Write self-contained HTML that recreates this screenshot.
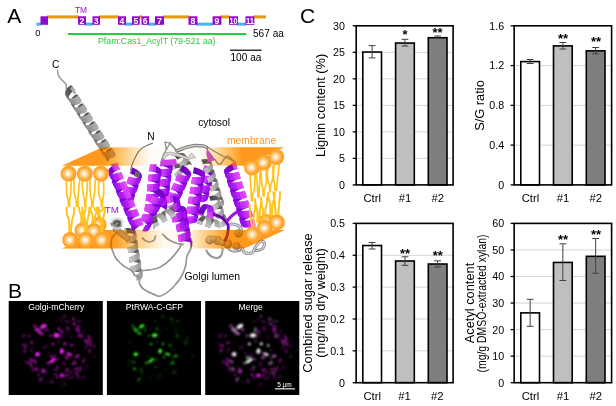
<!DOCTYPE html>
<html><head><meta charset="utf-8"><title>Figure</title>
<style>
html,body{margin:0;padding:0;background:#fff}
svg{display:block;font-family:"Liberation Sans",sans-serif}
.tk{font-size:10.7px;fill:#000}
.xl{font-size:11.3px;fill:#000}
.st{font-size:13px;font-weight:bold;fill:#000}
.ax{font-size:12.8px;fill:#000}
.pl{font-size:21px;fill:#000}
</style></head><body>
<svg width="616" height="406" viewBox="0 0 616 406">
<rect width="616" height="406" fill="#fff"/>
<text x="7.2" y="23" class="pl">A</text>
<text x="8" y="298.3" class="pl">B</text>
<text x="300" y="23.3" class="pl">C</text>
<g id="domain">
<rect x="47" y="15.399999999999999" width="32" height="3" fill="#e6980c"/>
<rect x="99" y="15.399999999999999" width="20" height="3" fill="#e6980c"/>
<rect x="139" y="15.399999999999999" width="3" height="3" fill="#e6980c"/>
<rect x="163" y="15.399999999999999" width="26" height="3" fill="#e6980c"/>
<rect x="220" y="15.399999999999999" width="10" height="3" fill="#e6980c"/>
<rect x="253" y="15.399999999999999" width="13" height="3" fill="#e6980c"/>
<rect x="36.5" y="22.65" width="4.5" height="3" fill="#45b2ea"/>
<rect x="85" y="22.65" width="8" height="3" fill="#45b2ea"/>
<rect x="125" y="22.65" width="8" height="3" fill="#45b2ea"/>
<rect x="148" y="22.65" width="8" height="3" fill="#45b2ea"/>
<rect x="196" y="22.65" width="17" height="3" fill="#45b2ea"/>
<rect x="237" y="22.65" width="9" height="3" fill="#45b2ea"/>
<rect x="40.5" y="16.3" width="7.5" height="8.5" fill="#9208cc"/>
<rect x="78" y="16.3" width="8" height="8.5" fill="#9208cc"/>
<text x="82.0" y="23.7" text-anchor="middle" font-size="8.7" font-weight="bold" fill="#fff">2</text>
<rect x="92.5" y="16.3" width="7.5" height="8.5" fill="#9208cc"/>
<text x="96.25" y="23.7" text-anchor="middle" font-size="8.7" font-weight="bold" fill="#fff">3</text>
<rect x="118" y="16.3" width="8" height="8.5" fill="#9208cc"/>
<text x="122.0" y="23.7" text-anchor="middle" font-size="8.7" font-weight="bold" fill="#fff">4</text>
<rect x="132" y="16.3" width="7.699999999999989" height="8.5" fill="#9208cc"/>
<text x="135.85" y="23.7" text-anchor="middle" font-size="8.7" font-weight="bold" fill="#fff">5</text>
<rect x="141.5" y="16.3" width="7.5" height="8.5" fill="#9208cc"/>
<text x="145.25" y="23.7" text-anchor="middle" font-size="8.7" font-weight="bold" fill="#fff">6</text>
<rect x="155" y="16.3" width="9" height="8.5" fill="#9208cc"/>
<text x="159.5" y="23.7" text-anchor="middle" font-size="8.7" font-weight="bold" fill="#fff">7</text>
<rect x="188.5" y="16.3" width="9.0" height="8.5" fill="#9208cc"/>
<text x="193.0" y="23.7" text-anchor="middle" font-size="8.7" font-weight="bold" fill="#fff">8</text>
<rect x="212.6" y="16.3" width="8.800000000000011" height="8.5" fill="#9208cc"/>
<text x="217.0" y="23.7" text-anchor="middle" font-size="8.7" font-weight="bold" fill="#fff">9</text>
<rect x="229" y="16.3" width="9" height="8.5" fill="#9208cc"/>
<text x="233.5" y="23.7" text-anchor="middle" font-size="8.7" font-weight="bold" fill="#fff" textLength="8" lengthAdjust="spacingAndGlyphs">10</text>
<rect x="245.5" y="16.3" width="8.800000000000011" height="8.5" fill="#9208cc"/>
<text x="249.9" y="23.7" text-anchor="middle" font-size="8.7" font-weight="bold" fill="#fff" textLength="8" lengthAdjust="spacingAndGlyphs">11</text>
<text x="75" y="12.6" font-size="8.4" fill="#9a10c8">TM</text>
<text x="35.2" y="36.4" font-size="9.4" fill="#000">0</text>
<rect x="68" y="33.0" width="178.3" height="2" fill="#22cc44"/>
<text x="98" y="43.8" font-size="8.75" fill="#22cc44">Pfam:Cas1_AcylT (79-521 aa)</text>
<text x="253" y="36.8" font-size="10.1" fill="#000">567 aa</text>
<rect x="230" y="49.6" width="31.6" height="1.2" fill="#000"/>
<text x="230.5" y="60.8" font-size="10.1" fill="#000">100 aa</text>
</g>
<g id="protein">
<defs>
<radialGradient id="sph" cx="0.46" cy="0.5" r="0.56"><stop offset="0" stop-color="#ffffff"/><stop offset="0.12" stop-color="#fff4e0"/><stop offset="0.38" stop-color="#ffcf8a"/><stop offset="0.68" stop-color="#ffa42a"/><stop offset="0.86" stop-color="#ffa024"/><stop offset="1" stop-color="#ffb65c"/></radialGradient>
<linearGradient id="band" gradientUnits="userSpaceOnUse" x1="62" x2="284" y1="0" y2="0">
<stop offset="0" stop-color="#ff9a1c" stop-opacity="1"/><stop offset="0.19" stop-color="#ff9a1c" stop-opacity="1"/>
<stop offset="0.26" stop-color="#ffa535" stop-opacity="0.62"/><stop offset="0.33" stop-color="#ffa535" stop-opacity="0.26"/><stop offset="0.40" stop-color="#ffb050" stop-opacity="0.03"/>
<stop offset="0.62" stop-color="#ffb050" stop-opacity="0.03"/><stop offset="0.69" stop-color="#ffa535" stop-opacity="0.3"/><stop offset="0.757" stop-color="#ffa535" stop-opacity="0.7"/>
<stop offset="0.81" stop-color="#ff9a1c" stop-opacity="1"/><stop offset="1" stop-color="#ff9a1c" stop-opacity="1"/></linearGradient>
<radialGradient id="gblob" cx="0.4" cy="0.35" r="0.75"><stop offset="0" stop-color="#dcdcdc"/><stop offset="0.55" stop-color="#a6a6a6"/><stop offset="1" stop-color="#555"/></radialGradient>
<linearGradient id="bandb" gradientUnits="userSpaceOnUse" x1="62" x2="284" y1="0" y2="0">
<stop offset="0" stop-color="#ff9a1c" stop-opacity="1"/><stop offset="0.225" stop-color="#ff9a1c" stop-opacity="1"/>
<stop offset="0.306" stop-color="#ffa535" stop-opacity="0.6"/><stop offset="0.387" stop-color="#ffa535" stop-opacity="0.3"/><stop offset="0.464" stop-color="#ffb050" stop-opacity="0.05"/>
<stop offset="0.56" stop-color="#ffb050" stop-opacity="0.05"/><stop offset="0.62" stop-color="#ffa535" stop-opacity="0.35"/><stop offset="0.69" stop-color="#ffa535" stop-opacity="0.7"/>
<stop offset="0.75" stop-color="#ff9a1c" stop-opacity="1"/><stop offset="1" stop-color="#ff9a1c" stop-opacity="1"/></linearGradient>
<linearGradient id="bandb2" gradientUnits="userSpaceOnUse" x1="62" x2="284" y1="0" y2="0">
<stop offset="0" stop-color="#ffc032" stop-opacity="1"/><stop offset="0.225" stop-color="#ffc032" stop-opacity="1"/>
<stop offset="0.306" stop-color="#ffc545" stop-opacity="0.6"/><stop offset="0.387" stop-color="#ffc545" stop-opacity="0.3"/><stop offset="0.464" stop-color="#ffd070" stop-opacity="0.05"/>
<stop offset="0.56" stop-color="#ffd070" stop-opacity="0.05"/><stop offset="0.62" stop-color="#ffc545" stop-opacity="0.35"/><stop offset="0.69" stop-color="#ffc545" stop-opacity="0.7"/>
<stop offset="0.75" stop-color="#ffc032" stop-opacity="1"/><stop offset="1" stop-color="#ffc032" stop-opacity="1"/></linearGradient>
<linearGradient id="band2" gradientUnits="userSpaceOnUse" x1="62" x2="284" y1="0" y2="0">
<stop offset="0" stop-color="#ffc032" stop-opacity="1"/><stop offset="0.19" stop-color="#ffc032" stop-opacity="1"/>
<stop offset="0.26" stop-color="#ffc545" stop-opacity="0.62"/><stop offset="0.33" stop-color="#ffc545" stop-opacity="0.26"/><stop offset="0.40" stop-color="#ffd070" stop-opacity="0.03"/>
<stop offset="0.62" stop-color="#ffd070" stop-opacity="0.03"/><stop offset="0.69" stop-color="#ffc545" stop-opacity="0.3"/><stop offset="0.757" stop-color="#ffc545" stop-opacity="0.7"/>
<stop offset="0.81" stop-color="#ffc032" stop-opacity="1"/><stop offset="1" stop-color="#ffc032" stop-opacity="1"/></linearGradient>
</defs>
<path id="tails" d="M66.5 181.0Q66.2 193.8 67.4 196.8T68.5 206.5M71.1 181.0Q70.8 193.8 70.2 196.8T69.5 206.5M82.0 181.0Q82.9 193.8 83.8 196.8T84.9 206.5M87.4 181.0Q87.2 193.8 86.5 196.8T85.7 206.5M99.1 181.0Q97.7 193.8 99.6 196.8T101.3 206.5M103.4 181.0Q104.2 193.8 103.3 196.8T102.5 206.5M74.1 180.0Q73.7 193.2 75.1 196.4T76.4 206.5M79.7 180.0Q78.3 193.2 78.2 196.4T77.9 206.5M90.1 180.0Q89.8 193.2 90.8 196.4T91.7 206.5M95.3 180.0Q94.9 193.2 94.0 196.4T93.0 206.5M250.0 175.0Q250.9 188.0 251.1 191.1T251.5 201.0M254.8 175.0Q255.2 188.0 253.8 191.1T252.4 201.0M261.0 170.0Q261.4 183.0 262.3 186.1T263.3 196.0M266.1 170.0Q267.1 183.0 265.5 186.1T264.1 196.0M274.3 164.5Q272.8 177.5 274.0 180.6T274.9 190.5M279.1 164.5Q277.9 177.5 277.4 180.6T276.5 190.5M256.0 171.0Q257.3 184.0 257.5 187.1T257.9 197.0M260.0 171.0Q259.7 184.0 259.4 187.1T258.9 197.0M267.8 166.0Q266.8 179.0 268.4 182.1T269.7 192.0M272.9 166.0Q273.4 179.0 271.8 182.1T270.3 192.0" fill="none" stroke="#ffc41c" stroke-width="1.7" stroke-linecap="round"/>
<path d="M69.4 232.5Q69.6 220.0 68.0 217.0T66.5 207.5M70.8 232.5Q71.8 220.0 73.0 217.0T74.3 207.5M84.9 232.5Q86.2 220.0 84.1 217.0T82.3 207.5M86.7 232.5Q86.9 220.0 88.2 217.0T89.4 207.5M101.1 232.5Q101.6 220.0 100.1 217.0T98.7 207.5M102.5 232.5Q102.1 220.0 103.5 217.0T104.8 207.5M81.3 223.0Q81.8 215.2 80.4 213.4T79.1 207.5M83.6 223.0Q82.8 215.2 84.2 213.4T85.5 207.5M92.6 223.5Q93.1 215.5 91.8 213.6T90.6 207.5M95.2 223.5Q94.5 215.5 95.9 213.6T97.1 207.5M98.3 217.5Q99.0 212.5 96.6 211.3T94.3 207.5M99.3 217.5Q97.7 212.5 100.5 211.3T103.1 207.5M251.9 227.0Q250.4 215.5 250.1 212.7T249.5 204.0M253.9 227.0Q253.1 215.5 254.3 212.7T255.3 204.0M263.4 220.5Q263.1 209.0 262.2 206.2T261.2 197.5M265.9 220.5Q264.6 209.0 266.1 206.2T267.2 197.5M275.7 215.0Q275.0 203.5 274.4 200.7T273.5 192.0M278.3 215.0Q279.0 203.5 279.4 200.7T280.0 192.0M257.2 222.0Q258.2 210.5 256.6 207.7T255.2 199.0M258.7 222.0Q259.9 210.5 260.5 207.7T261.2 199.0M270.1 216.0Q271.2 204.5 269.6 201.7T268.1 193.0M272.3 216.0Q271.9 204.5 273.3 201.7T274.6 193.0" fill="none" stroke="#ffc41c" stroke-width="1.7" stroke-linecap="round"/>
<path d="M57.5 70 C57.5 76 60 78.5 63.5 81.5 S66.6 85 66 88.5" fill="none" stroke="#6e6e6e" stroke-width="1.2" stroke-linecap="round" stroke-linejoin="round"/><path d="M57.5 70 C57.5 76 60 78.5 63.5 81.5 S66.6 85 66 88.5" fill="none" stroke="#c4c4c4" stroke-width="0.54" stroke-linecap="round" stroke-linejoin="round"/>
<path d="M72.4 86.3L75.8 91.7 75.1 90.9 71.7 85.5ZM71.9 85.6L75.3 91.0 73.7 91.1 70.3 85.7ZM78.1 95.2L81.5 100.6 80.7 99.9 77.3 94.5ZM77.6 94.5L81.0 99.9 79.3 100.1 75.9 94.7ZM83.7 104.2L87.2 109.5 86.4 108.8 82.9 103.4ZM89.4 113.1L92.8 118.5 92.0 117.8 88.6 112.4ZM95.1 122.0L98.5 127.4 97.6 126.7 94.2 121.3ZM100.7 130.9L104.2 136.3 103.2 135.7 99.8 130.3ZM106.4 139.8L109.8 145.2 108.8 144.6 105.4 139.2ZM112.1 148.7L115.5 154.1 114.5 153.6 111.0 148.2Z" fill="#484848"/>
<path d="M70.6 85.6L74.1 91.0 71.9 92.1 68.5 86.7ZM83.2 103.5L86.6 108.9 84.9 109.1 81.5 103.7ZM88.8 112.4L92.2 117.8 90.5 118.0 87.1 112.6ZM94.4 121.4L97.9 126.7 96.1 127.0 92.7 121.6ZM100.1 130.3L103.5 135.7 101.7 136.0 98.3 130.6ZM105.7 139.2L109.1 144.6 107.3 145.0 103.9 139.6ZM111.3 148.2L114.7 153.6 112.9 154.0 109.5 148.6Z" fill="#4c4c4c"/>
<path d="M68.9 86.4L72.3 91.8 70.1 93.9 66.7 88.5ZM74.5 95.4L77.9 100.8 75.8 102.9 72.3 97.5ZM80.1 104.4L83.5 109.8 81.4 112.0 77.9 106.6ZM85.7 113.4L89.1 118.8 87.0 121.0 83.5 115.6ZM91.3 122.4L94.7 127.8 92.6 130.1 89.2 124.7ZM96.9 131.5L100.3 136.8 98.2 139.1 94.8 133.7ZM102.5 140.5L105.9 145.9 103.8 148.2 100.4 142.8ZM108.0 149.5L111.5 154.9 109.4 157.2 106.0 151.8Z" fill="#545454"/>
<path d="M67.1 88.0L70.5 93.4 68.9 96.2 65.5 90.8Z" fill="#585858"/>
<path d="M65.7 90.3L69.1 95.6 68.5 98.8 65.0 93.4ZM71.3 99.3L74.7 104.7 74.1 107.8 70.7 102.4ZM77.0 108.4L80.4 113.8 79.8 116.9 76.4 111.5ZM82.6 117.4L86.0 122.8 85.5 125.9 82.1 120.5ZM88.2 126.5L91.6 131.9 91.2 135.0 87.8 129.6ZM93.9 135.6L97.3 140.9 96.9 144.1 93.4 138.7ZM99.5 144.6L102.9 150.0 102.6 153.1 99.1 147.7ZM105.1 153.7L108.5 159.1 108.2 162.2 104.8 156.8Z" fill="#606060"/>
<path d="M65.0 92.8L68.5 98.2 69.0 101.1 65.6 95.7ZM70.7 101.8L74.1 107.2 74.7 110.2 71.3 104.8ZM76.4 110.9L79.8 116.3 80.5 119.2 77.0 113.8ZM82.1 120.0L85.5 125.4 86.2 128.3 82.8 122.9ZM87.7 129.0L91.1 134.4 91.9 137.3 88.5 131.9ZM93.4 138.1L96.8 143.5 97.6 146.3 94.2 141.0ZM99.1 147.2L102.5 152.5 103.4 155.4 100.0 150.0Z" fill="#646464"/>
<path d="M76.2 94.5L79.7 99.9 77.5 101.1 74.1 95.7ZM81.9 103.5L85.3 108.9 83.1 110.1 79.7 104.7ZM87.5 112.5L90.9 117.9 88.7 119.2 85.3 113.8ZM93.1 121.5L96.5 126.9 94.3 128.2 90.8 122.8ZM98.7 130.4L102.1 135.8 99.9 137.2 96.4 131.8ZM104.3 139.4L107.7 144.8 105.5 146.2 102.0 140.8ZM109.9 148.4L113.3 153.8 111.0 155.2 107.6 149.9Z" fill="#505050"/>
<path d="M72.7 97.1L76.1 102.5 74.5 105.3 71.1 99.9ZM78.3 106.1L81.7 111.5 80.2 114.3 76.7 108.9ZM83.9 115.1L87.3 120.5 85.8 123.4 82.4 118.0ZM89.5 124.2L92.9 129.6 91.4 132.5 88.0 127.1ZM95.1 133.2L98.5 138.6 97.1 141.5 93.7 136.1ZM100.7 142.3L104.1 147.7 102.7 150.6 99.3 145.2ZM106.3 151.3L109.7 156.7 108.4 159.7 105.0 154.3Z" fill="#5c5c5c"/>
<path d="M70.1 88.2L74.1 94.6 75.8 93.1 71.8 86.7ZM75.8 97.1L79.9 103.5 81.5 102.0 77.5 95.6ZM81.6 106.0L85.7 112.4 87.2 110.9 83.2 104.5ZM87.3 114.9L91.4 121.3 93.0 119.8 88.9 113.4ZM93.1 123.8L97.2 130.2 98.7 128.7 94.6 122.3ZM98.9 132.7L102.9 139.1 104.4 137.6 100.3 131.2ZM104.6 141.6L108.7 148.0 110.1 146.5 106.0 140.1ZM110.3 150.5L114.4 156.9 115.8 155.4 111.7 149.0Z" fill="#acacac"/>
<path d="M71.6 87.0L75.6 93.4 76.1 92.0 72.0 85.6ZM77.3 95.9L81.3 102.3 81.8 100.9 77.7 94.5ZM83.0 104.8L87.1 111.2 87.4 109.9 83.4 103.4ZM88.7 113.7L92.8 120.1 93.1 118.8 89.0 112.4ZM94.4 122.6L98.5 129.0 98.8 127.7 94.7 121.3ZM100.1 131.5L104.2 137.9 104.4 136.6 100.4 130.2ZM105.8 140.4L109.9 146.8 110.1 145.5 106.0 139.1ZM111.5 149.3L115.6 155.7 115.7 154.5 111.7 148.0Z" fill="#b2b2b2"/>
<path d="M65.0 94.7L69.1 101.1 70.8 103.5 66.8 97.1ZM66.4 96.7L70.4 103.1 73.1 104.6 69.0 98.2ZM70.8 103.8L74.8 110.2 76.6 112.5 72.5 106.1ZM72.1 105.7L76.2 112.1 78.9 113.6 74.8 107.2ZM76.5 112.8L80.5 119.2 82.4 121.5 78.3 115.1ZM82.2 121.9L86.3 128.3 88.1 130.5 84.1 124.1ZM87.9 130.9L92.0 137.3 93.9 139.6 89.8 133.1ZM93.6 140.0L97.7 146.4 99.7 148.6 95.6 142.2ZM99.3 149.0L103.4 155.4 105.4 157.6 101.4 151.2Z" fill="#8a8a8a"/>
<path d="M68.5 98.0L72.5 104.4 75.7 104.8 71.6 98.4ZM74.2 107.0L78.3 113.4 81.5 113.8 77.4 107.4ZM80.0 116.0L84.1 122.4 87.3 122.7 83.2 116.3ZM85.8 125.0L89.9 131.4 93.1 131.7 89.0 125.3ZM91.6 133.9L95.7 140.4 98.9 140.6 94.8 134.2ZM97.4 142.9L101.4 149.3 104.7 149.6 100.6 143.1ZM103.2 151.9L107.2 158.3 110.5 158.5 106.4 152.1Z" fill="#959595"/>
<path d="M71.0 98.4L75.1 104.9 78.3 104.3 74.2 97.9ZM76.8 107.4L80.9 113.8 84.0 113.2 80.0 106.8ZM82.6 116.3L86.7 122.8 89.8 122.2 85.8 115.7ZM88.4 125.3L92.5 131.7 95.6 131.1 91.5 124.7ZM94.2 134.2L98.3 140.7 101.4 140.0 97.3 133.6ZM100.0 143.2L104.1 149.6 107.1 148.9 103.1 142.5ZM105.8 152.1L109.8 158.6 112.9 157.8 108.8 151.4Z" fill="#9b9b9b"/>
<path d="M73.6 98.1L77.7 104.5 80.3 103.3 76.2 96.9ZM79.4 107.0L83.5 113.4 86.1 112.2 82.0 105.8ZM85.2 115.9L89.3 122.3 91.8 121.1 87.7 114.7ZM91.0 124.8L95.1 131.3 97.6 130.0 93.5 123.6ZM96.8 133.8L100.8 140.2 103.3 138.9 99.2 132.5ZM102.5 142.7L106.6 149.1 109.0 147.8 105.0 141.4ZM108.3 151.6L112.4 158.0 114.8 156.7 110.7 150.3Z" fill="#a7a7a7"/>
<path d="M77.9 114.8L81.9 121.2 84.7 122.6 80.6 116.1ZM83.6 123.8L87.7 130.2 90.5 131.5 86.4 125.1ZM89.4 132.8L93.4 139.2 96.2 140.5 92.2 134.1ZM95.1 141.8L99.2 148.2 102.0 149.5 98.0 143.1ZM100.9 150.8L105.0 157.3 107.8 158.5 103.7 152.0Z" fill="#909090"/>
<path d="M124.4 228.4L125.2 233.6 126.2 233.3 125.4 228.2ZM125.9 238.0L126.7 243.1 127.9 242.9 127.1 237.7ZM127.5 247.6L128.3 252.8 128.4 252.6 127.6 247.5ZM127.5 247.5L128.3 252.7 129.6 252.4 128.8 247.3ZM128.9 257.2L129.7 262.4 130.0 262.2 129.2 257.1ZM130.4 266.8L131.2 272.0 131.6 271.8 130.8 266.6Z" fill="#3c3c3c"/>
<path d="M125.1 228.2L125.9 233.4 128.1 233.2 127.3 228.1ZM126.8 237.8L127.6 242.9 129.9 242.8 129.1 237.6ZM128.5 247.3L129.3 252.5 131.7 252.4 130.9 247.2ZM129.0 257.1L129.8 262.2 131.3 262.0 130.6 256.9ZM130.6 266.7L131.4 271.8 133.1 271.6 132.3 266.4Z" fill="#424242"/>
<path d="M126.8 228.1L127.6 233.2 130.5 233.3 129.7 228.2ZM130.2 256.9L131.0 262.0 133.5 262.0 132.7 256.8ZM131.9 266.5L132.7 271.6 135.3 271.6 134.5 266.4Z" fill="#494949"/>
<path d="M129.2 228.1L130.0 233.3 133.1 233.8 132.3 228.7ZM131.0 237.7L131.8 242.9 134.9 243.5 134.1 238.3ZM132.8 247.4L133.6 252.5 136.6 253.2 135.8 248.0Z" fill="#555555"/>
<path d="M131.7 228.5L132.5 233.7 135.2 234.7 134.4 229.6ZM134.6 257.0L135.4 262.1 138.4 262.9 137.6 257.7ZM136.5 266.6L137.3 271.8 140.2 272.6 139.4 267.4Z" fill="#5b5b5b"/>
<path d="M133.9 229.3L134.7 234.5 136.5 235.9 135.7 230.8ZM135.5 230.5L136.3 235.6 136.7 237.4 135.9 232.3ZM135.7 239.0L136.5 244.2 138.0 245.7 137.3 240.6ZM137.1 240.2L137.9 245.4 138.2 247.2 137.4 242.1ZM137.4 248.8L138.2 253.9 139.6 255.5 138.8 250.3ZM139.1 258.5L139.9 263.6 141.2 265.3 140.4 260.1ZM140.8 268.2L141.6 273.4 142.7 275.1 141.9 269.9Z" fill="#686868"/>
<path d="M128.6 237.6L129.4 242.8 132.4 243.0 131.6 237.8ZM130.4 247.2L131.2 252.4 134.2 252.6 133.4 247.4ZM132.2 256.8L133.0 262.0 136.0 262.2 135.2 257.1ZM134.0 266.4L134.8 271.5 137.8 271.9 137.0 266.7Z" fill="#4f4f4f"/>
<path d="M133.5 238.2L134.3 243.3 136.9 244.4 136.1 239.3ZM135.3 247.9L136.1 253.0 138.6 254.2 137.8 249.0ZM137.1 257.5L137.9 262.7 140.3 263.9 139.5 258.8ZM138.9 267.2L139.7 272.4 141.9 273.7 141.1 268.5Z" fill="#626262"/>
<path d="M126.0 227.7L127.0 233.9 125.5 234.1 124.5 228.0ZM129.3 236.8L130.2 242.9 127.9 243.6 126.9 237.5ZM130.5 246.5L131.4 252.6 129.2 253.2 128.2 247.1ZM131.7 256.2L132.6 262.3 130.5 262.8 129.5 256.7ZM132.9 265.8L133.9 272.0 131.8 272.4 130.9 266.3Z" fill="#c4c4c4"/>
<path d="M124.7 228.0L125.6 234.1 125.3 234.0 124.4 227.9ZM127.3 237.4L128.2 243.5 126.9 243.7 125.9 237.6ZM126.1 237.6L127.0 243.7 126.9 243.6 125.9 237.5ZM128.6 247.0L129.5 253.1 128.3 253.3 127.3 247.2ZM129.9 256.6L130.8 262.8 129.7 262.9 128.8 256.7ZM131.2 266.3L132.1 272.4 131.2 272.4 130.3 266.3Z" fill="#cdcdcd"/>
<path d="M135.9 231.4L136.8 237.6 136.0 239.5 135.0 233.4ZM137.4 241.2L138.3 247.4 137.3 249.3 136.3 243.2ZM138.6 249.5L139.5 255.6 139.7 257.5 138.7 251.4ZM138.8 251.0L139.8 257.2 138.6 259.1 137.6 253.0ZM140.2 259.3L141.1 265.4 141.1 267.3 140.1 261.2ZM141.7 269.1L142.7 275.2 142.4 277.1 141.5 271.0Z" fill="#8e8e8e"/>
<path d="M135.3 233.0L136.2 239.2 134.3 241.0 133.3 234.9ZM136.6 242.8L137.6 248.9 135.5 250.8 134.5 244.7ZM140.2 260.8L141.2 266.9 139.9 268.9 138.9 262.8ZM141.7 270.6L142.6 276.7 141.1 278.7 140.2 272.5Z" fill="#979797"/>
<path d="M133.8 234.6L134.7 240.7 132.0 242.2 131.1 236.1ZM135.0 244.3L135.9 250.5 133.2 252.0 132.3 245.8ZM136.2 254.1L137.2 260.2 134.4 261.7 133.4 255.6ZM137.4 263.9L138.4 270.0 135.6 271.4 134.6 265.3ZM138.6 273.6L139.6 279.7 136.7 281.1 135.8 275.0Z" fill="#a9a9a9"/>
<path d="M131.6 235.9L132.6 242.0 129.7 243.1 128.8 237.0ZM132.8 245.6L133.7 251.7 130.9 252.8 130.0 246.7Z" fill="#b2b2b2"/>
<path d="M138.0 252.6L138.9 258.7 136.7 260.5 135.7 254.4ZM139.3 262.4L140.2 268.5 137.9 270.3 136.9 264.2ZM140.5 272.2L141.5 278.3 139.1 280.0 138.1 273.9Z" fill="#a0a0a0"/>
<path d="M134.0 255.3L134.9 261.4 132.2 262.5 131.2 256.3ZM135.1 265.0L136.1 271.2 133.4 272.1 132.4 266.0Z" fill="#bbbbbb"/>
<path d="M116 229.5 L127 238" stroke="#7a7a7a" stroke-width="6.2" stroke-linecap="round" fill="none"/>
<path d="M116 229.5 L127 238" stroke="#b4b4b4" stroke-width="4.6" stroke-linecap="round" fill="none"/>
<ellipse cx="116.6" cy="223.4" rx="6.2" ry="5.2" fill="#8c8c8c"/>
<path d="M111.2 222 C112 218.5 116 217.6 119.5 218.6 S123 222 122.4 224.4" fill="none" stroke="#e4e4e4" stroke-width="2.2" stroke-linecap="round"/>
<path d="M113 226.5 C114 228.6 118 229 120.5 227.6" fill="none" stroke="#d0d0d0" stroke-width="1.8" stroke-linecap="round"/>
<path d="M114.2 223.6 C114.6 221.4 117.4 220.8 119 222 S119.6 225.2 117.6 225.6" fill="none" stroke="#4a4a4a" stroke-width="1.6" stroke-linecap="round"/>
<circle cx="209.6" cy="240" r="4.4" fill="url(#gblob)"/>
<circle cx="217.7" cy="240.4" r="4.6" fill="url(#gblob)"/>
<circle cx="227.5" cy="243.8" r="4.6" fill="url(#gblob)"/>
<circle cx="236.5" cy="246" r="4.0" fill="url(#gblob)"/>
<circle cx="238.3" cy="233.3" r="4.2" fill="url(#gblob)"/>
<circle cx="222.5" cy="242.5" r="3.6" fill="url(#gblob)"/>
<circle cx="213.5" cy="239" r="3.4" fill="url(#gblob)"/>
<path d="M169.4 166.1L172.0 170.5 172.4 170.0 169.8 165.7ZM174.0 173.8L176.6 178.2 177.1 177.7 174.5 173.3Z" fill="#3c3c3c"/>
<path d="M169.6 165.8L172.2 170.1 173.7 169.3 171.1 165.0Z" fill="#424242"/>
<path d="M170.7 165.1L173.3 169.5 175.7 168.5 173.1 164.2Z" fill="#494949"/>
<path d="M172.6 164.3L175.2 168.6 178.0 167.9 175.4 163.6Z" fill="#4f4f4f"/>
<path d="M174.8 163.7L177.4 168.0 180.2 167.8 177.6 163.4Z" fill="#5b5b5b"/>
<path d="M177.1 163.4L179.7 167.7 182.0 168.2 179.4 163.9Z" fill="#626262"/>
<path d="M179.0 163.7L181.6 168.1 183.1 169.3 180.5 165.0Z" fill="#686868"/>
<path d="M172.7 163.3L175.8 168.4 173.8 170.1 170.7 164.9ZM177.2 171.2L180.2 176.3 178.3 177.9 175.2 172.8Z" fill="#bbbbbb"/>
<path d="M171.1 164.7L174.2 169.8 172.7 170.8 169.6 165.6ZM175.5 172.5L178.6 177.7 177.2 178.5 174.1 173.4Z" fill="#c4c4c4"/>
<path d="M169.8 165.5L172.9 170.7 172.2 170.9 169.1 165.7ZM174.3 173.3L177.4 178.4 176.8 178.5 173.8 173.4Z" fill="#cdcdcd"/>
<path d="M180.1 164.2L183.1 169.4 183.5 171.3 180.4 166.1Z" fill="#8e8e8e"/>
<path d="M180.4 165.7L183.5 170.9 182.8 173.1 179.7 168.0Z" fill="#979797"/>
<path d="M180.0 167.5L183.0 172.7 181.5 175.0 178.4 169.9Z" fill="#a0a0a0"/>
<path d="M178.8 169.4L181.8 174.6 179.9 176.7 176.8 171.5Z" fill="#b2b2b2"/>
<path d="M174.5 155.5L177.3 159.6 179.2 158.5 176.4 154.4ZM179.4 163.1L182.3 167.2 183.9 166.1 181.0 162.0Z" fill="#424242"/>
<path d="M175.9 154.6L178.8 158.7 181.5 157.6 178.6 153.4Z" fill="#4f4f4f"/>
<path d="M178.0 153.6L180.9 157.8 183.9 157.0 181.0 152.9ZM182.6 161.2L185.5 165.4 188.4 164.5 185.5 160.4Z" fill="#555555"/>
<path d="M180.4 153.0L183.3 157.1 186.0 157.1 183.1 153.0Z" fill="#626262"/>
<path d="M182.7 152.9L185.6 157.0 187.5 157.9 184.6 153.7ZM187.3 160.2L190.1 164.3 192.3 165.0 189.4 160.8Z" fill="#686868"/>
<path d="M179.0 163.5L181.9 167.6 182.5 167.0 179.6 162.9Z" fill="#3c3c3c"/>
<path d="M180.6 162.2L183.5 166.3 186.0 165.2 183.1 161.0Z" fill="#494949"/>
<path d="M184.9 160.5L187.8 164.6 190.6 164.4 187.7 160.3Z" fill="#5b5b5b"/>
<path d="M184.0 153.1L187.5 158.0 188.3 159.7 184.9 154.8Z" fill="#8e8e8e"/>
<path d="M184.9 154.4L188.3 159.3 188.0 161.6 184.6 156.7Z" fill="#979797"/>
<path d="M184.7 156.2L188.2 161.2 186.9 163.7 183.4 158.8Z" fill="#a0a0a0"/>
<path d="M183.8 158.3L187.2 163.2 185.3 165.6 181.9 160.7Z" fill="#a9a9a9"/>
<path d="M182.3 160.3L185.7 165.2 183.8 167.1 180.3 162.2Z" fill="#bbbbbb"/>
<path d="M180.7 161.9L184.1 166.8 182.6 167.9 179.2 163.0Z" fill="#c4c4c4"/>
<path d="M179.4 162.9L182.8 167.8 182.2 168.0 178.8 163.1Z" fill="#cdcdcd"/>
<path d="M152.5 143.3 C147 145 142 148 139.6 150.4 S134 160 132 164.6 L130.6 170 L136 172" fill="none" stroke="#6a6a6a" stroke-width="1.1" stroke-linecap="round"/>
<path d="M165 142.2 L170 143 L166.4 149.7 Z" fill="none" stroke="#6e6e6e" stroke-width="1.2" stroke-linecap="round" stroke-linejoin="round"/><path d="M165 142.2 L170 143 L166.4 149.7 Z" fill="none" stroke="#c4c4c4" stroke-width="0.54" stroke-linecap="round" stroke-linejoin="round"/>
<path d="M166.4 149.7 C164 153 162 157 161 162" fill="none" stroke="#6e6e6e" stroke-width="1.2" stroke-linecap="round" stroke-linejoin="round"/><path d="M166.4 149.7 C164 153 162 157 161 162" fill="none" stroke="#c4c4c4" stroke-width="0.54" stroke-linecap="round" stroke-linejoin="round"/>
<path d="M170 143 L177.6 152 L183.6 149" fill="none" stroke="#6e6e6e" stroke-width="1.4" stroke-linecap="round" stroke-linejoin="round"/><path d="M170 143 L177.6 152 L183.6 149" fill="none" stroke="#c4c4c4" stroke-width="0.63" stroke-linecap="round" stroke-linejoin="round"/>
<path d="M205.8 146 C212 150 220 155 226.7 158 S232 160 234 161.5" fill="none" stroke="#6e6e6e" stroke-width="1.2" stroke-linecap="round" stroke-linejoin="round"/><path d="M205.8 146 C212 150 220 155 226.7 158 S232 160 234 161.5" fill="none" stroke="#c4c4c4" stroke-width="0.54" stroke-linecap="round" stroke-linejoin="round"/>
<path d="M214.8 159.4 C217 163 219 165 220.7 163.9 S225 155 228.2 156.4 S233 161 235.7 162.4" fill="none" stroke="#6e6e6e" stroke-width="1.3" stroke-linecap="round" stroke-linejoin="round"/><path d="M214.8 159.4 C217 163 219 165 220.7 163.9 S225 155 228.2 156.4 S233 161 235.7 162.4" fill="none" stroke="#c4c4c4" stroke-width="0.59" stroke-linecap="round" stroke-linejoin="round"/>
<path d="M176 152.2 L186.3 148.6 L195 146.7 L203.9 147.2 L207.5 149.4 L207.8 147 L204 144.8 L195 144.2 L186 146 L175.6 149.8 Z" fill="#cfcfcf" stroke="#5e5e5e" stroke-width="0.8" stroke-linejoin="round"/>
<path d="M162.5 157 L165 153 L170 152 L179 154 L188 157.5 L191.5 153 L195.5 157.5 L188 159.5 L178 156.5 L170 154.6 L166 156 L164 160 Z" fill="#dedede" stroke="#8a8a8a" stroke-width="0.6" stroke-linejoin="round"/>
<path d="M117.6 232.4 C114 235 112.5 236.5 112 238 S110.5 242 111 245.3 S113 252 114.8 256.4 S119 262 122.2 264.7 S127 268 129.6 269.4 S133 272.5 134.2 274" fill="none" stroke="#6e6e6e" stroke-width="1.5" stroke-linecap="round" stroke-linejoin="round"/><path d="M117.6 232.4 C114 235 112.5 236.5 112 238 S110.5 242 111 245.3 S113 252 114.8 256.4 S119 262 122.2 264.7 S127 268 129.6 269.4 S133 272.5 134.2 274" fill="none" stroke="#c4c4c4" stroke-width="0.68" stroke-linecap="round" stroke-linejoin="round"/>
<path d="M134.2 275 C137 276.5 139.5 277 139.7 278.6 S138.8 282 139.7 284.1 S142 288 144.4 289.7 S150 293 153.6 294.3 S157 296.4 159.1 296.2 S165 294 168.4 291.5 S173 287.5 175.8 284.1 S180.5 279 182.3 274.9 S185.4 267.5 186 263.8 S186.2 259 186.9 256.4 S189.6 252 190.6 249 S191.6 244 191.9 241.6" fill="none" stroke="#6e6e6e" stroke-width="1.5" stroke-linecap="round" stroke-linejoin="round"/><path d="M134.2 275 C137 276.5 139.5 277 139.7 278.6 S138.8 282 139.7 284.1 S142 288 144.4 289.7 S150 293 153.6 294.3 S157 296.4 159.1 296.2 S165 294 168.4 291.5 S173 287.5 175.8 284.1 S180.5 279 182.3 274.9 S185.4 267.5 186 263.8 S186.2 259 186.9 256.4 S189.6 252 190.6 249 S191.6 244 191.9 241.6" fill="none" stroke="#c4c4c4" stroke-width="0.68" stroke-linecap="round" stroke-linejoin="round"/>
<path d="M138.8 271.2 C141 270.8 143.5 270.6 146.2 270.3 S153.5 269.6 157.3 268.4 S163.5 265.2 166.5 262.9 S171.5 258.3 173.9 255.5 S178 250.5 179.5 248.1 L181.3 244.4" fill="none" stroke="#6e6e6e" stroke-width="1.5" stroke-linecap="round" stroke-linejoin="round"/><path d="M138.8 271.2 C141 270.8 143.5 270.6 146.2 270.3 S153.5 269.6 157.3 268.4 S163.5 265.2 166.5 262.9 S171.5 258.3 173.9 255.5 S178 250.5 179.5 248.1 L181.3 244.4" fill="none" stroke="#c4c4c4" stroke-width="0.68" stroke-linecap="round" stroke-linejoin="round"/>
<path d="M142.5 238 C144 240 145.5 241.4 147.1 241.6 S152 241.8 153.6 240.7 S155.3 238 155.5 236" fill="none" stroke="#6e6e6e" stroke-width="1.5" stroke-linecap="round" stroke-linejoin="round"/><path d="M142.5 238 C144 240 145.5 241.4 147.1 241.6 S152 241.8 153.6 240.7 S155.3 238 155.5 236" fill="none" stroke="#c4c4c4" stroke-width="0.68" stroke-linecap="round" stroke-linejoin="round"/>
<path d="M162.8 234.2 C165 237 167.5 239.2 170.2 240.7 S175 242.9 177.6 243.5 L183.2 244.4" fill="none" stroke="#6e6e6e" stroke-width="1.5" stroke-linecap="round" stroke-linejoin="round"/><path d="M162.8 234.2 C165 237 167.5 239.2 170.2 240.7 S175 242.9 177.6 243.5 L183.2 244.4" fill="none" stroke="#c4c4c4" stroke-width="0.68" stroke-linecap="round" stroke-linejoin="round"/>
<path d="M206.4 250.4 C207.5 253 209 255.2 211.2 256.3 S215.5 258.2 217.7 257.9 S221 255.6 221.8 253.8 S222.5 251 222.6 249" fill="none" stroke="#6e6e6e" stroke-width="1.9" stroke-linecap="round" stroke-linejoin="round"/><path d="M206.4 250.4 C207.5 253 209 255.2 211.2 256.3 S215.5 258.2 217.7 257.9 S221 255.6 221.8 253.8 S222.5 251 222.6 249" fill="none" stroke="#c4c4c4" stroke-width="0.85" stroke-linecap="round" stroke-linejoin="round"/>
<path d="M227.5 248 C229 250 230.5 251.2 232.3 251.4 S238 251.4 240.5 250.6 L242 248" fill="none" stroke="#6e6e6e" stroke-width="1.7" stroke-linecap="round" stroke-linejoin="round"/><path d="M227.5 248 C229 250 230.5 251.2 232.3 251.4 S238 251.4 240.5 250.6 L242 248" fill="none" stroke="#c4c4c4" stroke-width="0.77" stroke-linecap="round" stroke-linejoin="round"/>
<path d="M242 248 C243 251 244 252.6 245.3 253 S250 253.6 251.8 253 S254 250 255 248 S258.5 243 260 241.7 S263.4 241.4 264 242.5 S264 246.6 263.2 248 S259 250.2 256.7 250.6" fill="none" stroke="#8a8a8a" stroke-width="3.0" stroke-linecap="round" stroke-linejoin="round"/><path d="M242 248 C243 251 244 252.6 245.3 253 S250 253.6 251.8 253 S254 250 255 248 S258.5 243 260 241.7 S263.4 241.4 264 242.5 S264 246.6 263.2 248 S259 250.2 256.7 250.6" fill="none" stroke="#d4d4d4" stroke-width="1.35" stroke-linecap="round" stroke-linejoin="round"/>
<path d="M231 224 C233.5 224.2 236 224.6 238 225.4 S241 228.4 241.3 230.3 S240.6 233.2 239.6 234.4" fill="none" stroke="#8a8a8a" stroke-width="3.2" stroke-linecap="round" stroke-linejoin="round"/><path d="M231 224 C233.5 224.2 236 224.6 238 225.4 S241 228.4 241.3 230.3 S240.6 233.2 239.6 234.4" fill="none" stroke="#d4d4d4" stroke-width="1.44" stroke-linecap="round" stroke-linejoin="round"/>
<path d="M235.6 162.6L237.5 168.5 237.2 168.5 235.3 162.6ZM235.5 162.5L237.4 168.4 235.6 169.0 233.7 163.1ZM238.7 172.1L240.6 178.0 240.2 178.1 238.3 172.1ZM241.8 181.6L243.7 187.5 243.1 187.6 241.2 181.7ZM244.9 191.1L246.8 197.0 246.0 197.2 244.1 191.3ZM248.0 200.6L249.9 206.5 248.8 206.8 246.9 200.9ZM251.0 210.1L252.9 216.0 251.7 216.4 249.8 210.5Z" fill="#6000b0"/>
<path d="M234.2 162.9L236.1 168.9 233.2 170.1 231.3 164.2ZM237.0 172.6L238.9 178.5 235.9 179.8 234.0 173.9ZM239.8 182.2L241.7 188.1 238.6 189.5 236.7 183.6ZM242.6 191.8L244.5 197.7 241.3 199.2 239.4 193.3ZM245.4 201.4L247.3 207.4 244.1 209.0 242.1 203.0ZM248.2 211.1L250.1 217.0 246.8 218.7 244.9 212.8Z" fill="#6b01bb"/>
<path d="M231.9 163.9L233.8 169.8 230.4 171.7 228.5 165.8ZM234.6 173.6L236.5 179.5 233.1 181.4 231.2 175.5ZM237.3 183.3L239.3 189.2 235.9 191.2 234.0 185.3Z" fill="#7002c0"/>
<path d="M229.1 165.4L231.0 171.3 227.9 173.6 226.0 167.6ZM231.8 175.1L233.8 181.0 230.7 183.3 228.8 177.4ZM234.6 184.9L236.5 190.8 233.5 193.1 231.6 187.2ZM237.3 194.6L239.2 200.5 236.4 202.8 234.5 196.9ZM240.0 204.3L241.9 210.3 239.2 212.6 237.3 206.7ZM242.8 214.1L244.7 220.0 242.1 222.4 240.2 216.5Z" fill="#7b03cb"/>
<path d="M226.5 167.2L228.4 173.1 226.2 175.5 224.3 169.6ZM229.3 177.0L231.2 182.9 229.2 185.2 227.3 179.3ZM232.1 186.7L234.0 192.6 232.1 195.0 230.2 189.1ZM234.9 196.5L236.8 202.4 235.1 204.7 233.2 198.8ZM237.7 206.2L239.6 212.2 238.1 214.5 236.2 208.5Z" fill="#8103d1"/>
<path d="M224.6 169.1L226.5 175.0 225.8 177.2 223.9 171.3ZM227.5 178.9L229.4 184.8 228.9 186.9 227.0 181.0ZM230.4 188.6L232.3 194.6 232.0 196.6 230.1 190.7ZM233.4 198.4L235.3 204.3 235.2 206.3 233.3 200.4ZM236.3 208.1L238.2 214.0 238.3 216.0 236.4 210.1ZM240.5 216.0L242.4 221.9 241.1 224.2 239.2 218.3ZM239.3 217.9L241.2 223.8 241.5 225.7 239.6 219.8Z" fill="#8604d6"/>
<path d="M238.5 172.1L240.4 178.0 238.4 178.7 236.5 172.8ZM241.4 181.6L243.3 187.5 241.2 188.3 239.3 182.4ZM244.4 191.2L246.3 197.1 244.0 197.9 242.1 192.0ZM247.3 200.7L249.2 206.7 246.7 207.6 244.8 201.7ZM250.1 210.3L252.1 216.2 249.5 217.3 247.6 211.3Z" fill="#6501b5"/>
<path d="M240.1 193.0L242.0 198.9 238.6 200.9 236.7 195.0ZM242.8 202.7L244.7 208.6 241.3 210.7 239.4 204.8ZM245.5 212.4L247.4 218.3 244.1 220.4 242.2 214.5Z" fill="#7602c6"/>
<path d="M231.7 163.0L234.0 170.1 236.8 169.4 234.5 162.4ZM235.1 172.5L237.4 179.5 240.1 178.9 237.8 171.8ZM238.5 181.9L240.8 189.0 243.3 188.3 241.0 181.3ZM241.9 191.4L244.2 198.4 246.5 197.8 244.2 190.8ZM245.3 200.8L247.6 207.9 249.7 207.3 247.4 200.2ZM248.7 210.3L250.9 217.3 252.9 216.7 250.6 209.7ZM249.4 220.3L251.7 227.3 254.8 226.7 252.5 219.6Z" fill="#e148fc"/>
<path d="M234.1 162.5L236.4 169.5 237.8 169.0 235.5 162.0ZM237.4 171.9L239.7 179.0 240.9 178.5 238.6 171.5ZM240.7 181.4L243.0 188.4 243.9 188.0 241.7 181.0ZM244.0 190.8L246.2 197.9 247.0 197.6 244.7 190.5ZM247.2 200.3L249.5 207.4 250.0 207.1 247.8 200.0ZM250.4 209.8L252.7 216.8 253.0 216.6 250.8 209.5ZM252.0 219.7L254.3 226.8 256.1 226.2 253.8 219.2ZM253.6 219.2L255.9 226.3 256.0 226.1 253.8 219.1Z" fill="#f054ff"/>
<path d="M223.7 170.4L226.0 177.4 226.9 179.1 224.6 172.0ZM226.7 180.1L229.0 187.1 230.1 188.7 227.9 181.7ZM229.8 189.8L232.1 196.8 233.4 198.4 231.1 191.3ZM232.9 199.5L235.2 206.5 236.7 208.0 234.5 201.0ZM236.1 209.2L238.3 216.2 240.0 217.6 237.8 210.6ZM239.2 218.9L241.5 225.9 243.4 227.2 241.1 220.2Z" fill="#8a00ec"/>
<path d="M224.3 171.8L226.5 178.8 229.0 179.9 226.7 172.8ZM227.5 181.4L229.8 188.5 232.4 189.5 230.1 182.4ZM230.8 191.1L233.0 198.1 235.8 199.0 233.5 192.0ZM234.0 200.7L236.3 207.8 239.2 208.6 236.9 201.5ZM237.3 210.4L239.6 217.4 242.6 218.1 240.4 211.1ZM240.6 220.0L242.9 227.1 246.1 227.7 243.8 220.6Z" fill="#990cef"/>
<path d="M226.1 172.7L228.4 179.7 231.9 180.1 229.6 173.1ZM229.5 182.3L231.8 189.3 235.4 189.6 233.1 182.6ZM232.9 191.9L235.1 198.9 238.8 199.1 236.6 192.1ZM236.3 201.5L238.5 208.5 242.3 208.6 240.0 201.6ZM239.7 211.0L242.0 218.1 245.8 218.1 243.5 211.1ZM243.1 220.6L245.4 227.6 249.2 227.6 247.0 220.6Z" fill="#a718f1"/>
<path d="M228.9 173.1L231.2 180.1 235.1 179.9 232.8 172.9ZM232.4 182.6L234.6 189.6 238.6 189.4 236.3 182.3ZM235.8 192.1L238.1 199.2 242.0 198.8 239.8 191.8Z" fill="#b624f4"/>
<path d="M232.1 172.9L234.4 180.0 238.0 179.4 235.7 172.4ZM235.6 182.4L237.9 189.5 241.4 188.9 239.1 181.8ZM239.0 191.9L241.3 198.9 244.8 198.3 242.5 191.3ZM242.5 201.3L244.8 208.4 248.1 207.8 245.8 200.7ZM246.0 210.8L248.2 217.9 251.4 217.2 249.2 210.2Z" fill="#d33cfa"/>
<path d="M239.3 201.6L241.6 208.7 245.5 208.3 243.2 201.3ZM242.8 211.1L245.0 218.2 248.9 217.8 246.6 210.7ZM246.2 220.6L248.5 227.7 252.3 227.2 250.1 220.2Z" fill="#c430f7"/>
<path d="M204.4 165.8L202.7 171.8 202.8 171.7 204.5 165.8ZM204.3 165.7L202.7 171.7 204.1 172.1 205.8 166.1ZM201.6 175.4L199.9 181.4 200.2 181.4 201.9 175.4ZM198.8 185.0L197.1 191.0 197.7 191.1 199.4 185.1ZM196.1 194.6L194.4 200.6 195.2 200.8 196.9 194.8Z" fill="#6000b0"/>
<path d="M205.4 166.0L203.8 172.0 206.3 173.0 208.0 167.0ZM201.7 175.4L200.0 181.4 201.7 181.9 203.4 175.9ZM199.2 185.0L197.5 191.0 199.4 191.6 201.0 185.6Z" fill="#6501b5"/>
<path d="M207.4 166.8L205.8 172.8 208.8 174.3 210.5 168.4ZM205.1 176.6L203.4 182.6 206.5 184.2 208.2 178.2ZM202.8 186.4L201.1 192.4 204.2 194.1 205.8 188.1Z" fill="#7002c0"/>
<path d="M209.9 168.0L208.2 174.0 211.1 176.0 212.7 170.0Z" fill="#7602c6"/>
<path d="M212.3 169.6L210.6 175.6 212.6 177.8 214.3 171.8ZM209.9 179.5L208.2 185.5 210.1 187.7 211.8 181.7ZM207.5 189.4L205.8 195.4 207.5 197.6 209.2 191.6Z" fill="#8103d1"/>
<path d="M214.0 171.4L212.4 177.4 213.1 179.5 214.8 173.5ZM211.5 181.3L209.9 187.3 210.4 189.4 212.1 183.4ZM209.0 191.2L207.3 197.2 207.6 199.2 209.3 193.2Z" fill="#8604d6"/>
<path d="M203.0 175.7L201.3 181.7 204.0 182.8 205.7 176.8ZM200.6 185.5L198.9 191.4 201.7 192.7 203.4 186.7Z" fill="#6b01bb"/>
<path d="M207.6 177.9L205.9 183.9 208.7 185.9 210.4 179.9ZM205.3 187.8L203.6 193.7 206.3 195.8 207.9 189.8Z" fill="#7b03cb"/>
<path d="M210.8 166.2L208.8 173.3 205.5 173.1 207.5 165.9Z" fill="#c430f7"/>
<path d="M208.0 166.0L206.0 173.1 203.4 172.7 205.4 165.5ZM204.9 175.6L202.9 182.7 200.5 182.2 202.5 175.1ZM201.8 185.2L199.8 192.3 197.6 191.8 199.6 184.7ZM198.7 194.7L196.7 201.8 194.7 201.4 196.7 194.3Z" fill="#e148fc"/>
<path d="M205.8 165.6L203.8 172.8 202.4 172.4 204.4 165.2ZM202.8 175.2L200.8 182.3 199.7 181.9 201.7 174.8ZM199.9 184.8L197.9 191.9 197.0 191.6 199.0 184.4ZM196.9 194.3L194.9 201.4 194.3 201.2 196.3 194.0Z" fill="#f054ff"/>
<path d="M215.0 172.6L213.0 179.7 212.3 181.5 214.3 174.3ZM214.6 174.0L212.6 181.2 210.5 182.4 212.5 175.3ZM212.3 182.4L210.3 189.6 209.4 191.3 211.4 184.1ZM209.6 192.3L207.6 199.4 206.4 201.1 208.4 193.9Z" fill="#8a00ec"/>
<path d="M213.0 175.1L211.0 182.2 207.9 182.9 209.9 175.8ZM209.9 184.9L207.9 192.0 204.7 192.5 206.7 185.4ZM206.8 194.6L204.8 201.7 201.5 202.2 203.5 195.1Z" fill="#a718f1"/>
<path d="M210.5 175.7L208.5 182.8 205.0 182.9 207.0 175.8ZM207.4 185.4L205.4 192.5 201.8 192.5 203.8 185.4ZM204.2 195.0L202.2 202.2 198.7 202.1 200.7 195.0Z" fill="#b624f4"/>
<path d="M207.7 175.8L205.7 182.9 202.4 182.6 204.4 175.5ZM204.5 185.4L202.5 192.5 199.3 192.2 201.3 185.1ZM201.3 195.0L199.3 202.1 196.2 201.8 198.2 194.6Z" fill="#d33cfa"/>
<path d="M211.7 183.9L209.7 191.0 207.4 192.2 209.4 185.0ZM208.7 193.7L206.7 200.8 204.3 201.9 206.3 194.8Z" fill="#990cef"/>
<path d="M193.9 167.3L192.9 173.4 194.2 173.6 195.2 167.5ZM192.2 177.2L191.2 183.3 192.5 183.5 193.5 177.4ZM190.6 187.0L189.5 193.1 190.8 193.3 191.9 187.2ZM188.9 196.9L187.8 203.0 189.1 203.2 190.2 197.1ZM187.2 206.7L186.2 212.9 187.5 213.1 188.5 206.9Z" fill="#6000b0"/>
<path d="M194.9 167.4L193.8 173.5 196.3 174.2 197.3 168.1ZM193.2 177.3L192.1 183.4 194.6 184.1 195.6 177.9ZM191.5 187.1L190.5 193.3 192.9 193.9 194.0 187.8ZM189.8 197.0L188.8 203.1 191.2 203.8 192.3 197.6ZM188.2 206.8L187.1 213.0 189.6 213.6 190.6 207.5Z" fill="#6501b5"/>
<path d="M196.8 167.9L195.7 174.0 198.8 175.2 199.9 169.0ZM195.1 177.7L194.1 183.9 197.1 185.0 198.2 178.9ZM193.4 187.6L192.4 193.7 195.5 194.9 196.5 188.8ZM191.7 197.5L190.7 203.6 193.8 204.8 194.8 198.6ZM190.1 207.3L189.0 213.5 192.1 214.6 193.2 208.5Z" fill="#7002c0"/>
<path d="M199.3 168.8L198.2 174.9 201.3 176.5 202.4 170.4ZM197.6 178.6L196.6 184.8 199.6 186.4 200.7 180.2ZM195.9 188.5L194.9 194.6 198.0 196.2 199.0 190.1ZM194.2 198.4L193.2 204.5 196.3 206.1 197.3 200.0ZM192.6 208.2L191.5 214.3 194.6 215.9 195.7 209.8Z" fill="#7602c6"/>
<path d="M201.8 170.0L200.8 176.2 203.2 178.1 204.3 171.9ZM200.1 179.9L199.1 186.0 201.5 187.9 202.6 181.8ZM198.5 189.8L197.4 195.9 199.9 197.8 200.9 191.7ZM196.8 199.6L195.8 205.7 198.2 207.7 199.2 201.5ZM195.1 209.5L194.1 215.6 196.5 217.5 197.6 211.4Z" fill="#8103d1"/>
<path d="M203.9 171.6L202.9 177.7 204.1 179.7 205.2 173.6ZM205.1 173.2L204.0 179.3 203.9 181.2 204.9 175.1ZM202.2 181.4L201.2 187.6 202.5 189.6 203.5 183.4ZM203.4 183.1L202.4 189.2 202.2 191.1 203.2 184.9ZM200.6 191.3L199.5 197.4 200.8 199.4 201.8 193.3ZM201.7 192.9L200.7 199.0 200.5 200.9 201.6 194.8ZM198.9 201.1L197.8 207.3 199.1 209.3 200.2 203.1ZM200.0 202.8L199.0 208.9 198.8 210.8 199.9 204.7ZM197.2 211.0L196.2 217.1 197.4 219.1 198.5 213.0ZM198.4 212.6L197.3 218.8 197.2 220.6 198.2 214.5Z" fill="#8604d6"/>
<path d="M194.3 166.9L193.0 174.1 192.9 174.0 194.1 166.7ZM194.0 176.9L192.8 184.2 191.2 184.0 192.4 176.7ZM192.6 176.7L191.3 184.0 191.2 183.9 192.4 176.6ZM192.3 186.8L191.1 194.1 189.5 193.8 190.7 186.5ZM190.9 186.6L189.7 193.9 189.5 193.7 190.8 186.4ZM190.6 196.6L189.4 203.9 187.8 203.7 189.1 196.4ZM189.2 196.4L188.0 203.7 187.9 203.6 189.1 196.3ZM189.0 206.5L187.7 213.8 186.1 213.5 187.4 206.3ZM187.6 206.3L186.3 213.6 186.2 213.5 187.4 206.2ZM187.3 216.4L186.0 223.7 184.5 223.4 185.7 216.1ZM185.9 216.1L184.6 223.4 184.5 223.3 185.7 216.0Z" fill="#f054ff"/>
<path d="M205.2 174.2L203.9 181.5 202.3 183.0 203.6 175.7ZM203.5 184.0L202.3 191.3 200.7 192.9 201.9 185.6ZM201.8 193.9L200.6 201.2 199.0 202.7 200.2 195.4ZM200.2 203.7L198.9 211.0 197.3 212.6 198.5 205.3ZM198.5 213.6L197.2 220.9 195.6 222.4 196.9 215.1Z" fill="#8a00ec"/>
<path d="M204.0 175.5L202.8 182.7 200.0 183.8 201.2 176.5ZM202.3 185.3L201.1 192.6 198.3 193.7 199.6 186.4ZM200.6 195.2L199.4 202.5 196.7 203.6 197.9 196.3ZM199.0 205.0L197.7 212.3 195.0 213.4 196.2 206.1ZM197.3 214.9L196.1 222.2 193.3 223.3 194.5 216.0Z" fill="#990cef"/>
<path d="M201.8 176.4L200.6 183.7 197.2 184.3 198.5 177.0ZM200.2 186.2L198.9 193.5 195.5 194.1 196.8 186.8ZM198.5 196.1L197.2 203.4 193.9 204.0 195.1 196.7ZM196.8 206.0L195.6 213.3 192.2 213.8 193.4 206.6ZM195.1 215.8L193.9 223.1 190.5 223.7 191.7 216.4Z" fill="#b624f4"/>
<path d="M199.1 176.9L197.9 184.2 194.5 184.3 195.7 177.0ZM197.4 186.8L196.2 194.1 192.8 194.2 194.0 186.9ZM195.7 196.6L194.5 203.9 191.1 204.1 192.4 196.8ZM194.1 206.5L192.8 213.8 189.4 213.9 190.7 206.6ZM192.4 216.3L191.2 223.6 187.8 223.8 189.0 216.5Z" fill="#c430f7"/>
<path d="M196.3 177.1L195.1 184.3 192.3 184.2 193.6 176.9ZM194.6 186.9L193.4 194.2 190.7 194.0 191.9 186.8ZM193.0 196.8L191.7 204.1 189.0 203.9 190.2 196.6ZM191.3 206.6L190.0 213.9 187.3 213.8 188.5 206.5ZM189.6 216.5L188.4 223.8 185.6 223.6 186.9 216.3Z" fill="#e148fc"/>
<path d="M182.4 165.1L179.8 170.8 181.7 171.7 184.2 166.1ZM178.4 174.3L175.9 180.0 177.9 181.1 180.5 175.4ZM174.6 183.5L172.0 189.2 174.2 190.4 176.8 184.8ZM170.7 192.8L168.2 198.4 170.5 199.8 173.1 194.2Z" fill="#6501b5"/>
<path d="M183.8 165.8L181.2 171.5 183.8 173.1 186.4 167.5ZM180.0 175.1L177.5 180.8 180.2 182.6 182.7 176.9Z" fill="#6b01bb"/>
<path d="M185.9 167.1L183.3 172.8 186.0 175.0 188.6 169.3ZM176.3 184.5L173.8 190.1 176.5 192.1 179.1 186.4ZM172.6 193.9L170.0 199.5 172.8 201.6 175.4 195.9Z" fill="#7002c0"/>
<path d="M188.1 168.9L185.6 174.5 187.8 177.0 190.4 171.4ZM184.4 178.4L181.9 184.0 183.9 186.5 186.5 180.9Z" fill="#7b03cb"/>
<path d="M190.0 170.9L187.5 176.6 188.7 179.0 191.3 173.3ZM186.2 180.4L183.6 186.1 184.6 188.4 187.2 182.8ZM180.7 187.9L178.1 193.6 180.0 196.1 182.6 190.4ZM177.0 197.4L174.4 203.1 176.1 205.6 178.6 199.9Z" fill="#8103d1"/>
<path d="M191.2 172.9L188.6 178.5 188.4 180.5 191.0 174.9ZM187.1 182.4L184.5 188.0 184.1 189.9 186.7 184.2ZM182.3 189.9L179.8 195.6 180.4 197.9 183.0 192.2ZM183.0 191.8L180.5 197.5 179.7 199.2 182.3 193.6ZM178.4 199.5L175.9 205.1 176.3 207.3 178.8 201.6Z" fill="#8604d6"/>
<path d="M177.8 174.1L175.2 179.7 176.2 180.1 178.7 174.4ZM173.7 183.2L171.1 188.8 172.3 189.4 174.9 183.7ZM169.7 192.4L167.1 198.1 167.2 198.0 169.8 192.4ZM169.7 192.3L167.1 198.0 168.5 198.6 171.1 193.0Z" fill="#6000b0"/>
<path d="M182.2 176.5L179.6 182.2 182.3 184.5 184.9 178.8ZM178.5 186.0L176.0 191.7 178.6 194.0 181.2 188.4ZM174.9 195.5L172.3 201.1 174.8 203.6 177.4 197.9Z" fill="#7602c6"/>
<path d="M191.4 174.0L188.4 180.8 186.8 182.1 189.9 175.4ZM187.1 183.4L184.1 190.1 182.3 191.4 185.3 184.6ZM182.8 192.8L179.7 199.5 177.7 200.6 180.7 193.8ZM179.1 200.7L176.1 207.5 175.0 209.1 178.1 202.4ZM178.4 202.1L175.4 208.9 173.1 209.8 176.1 203.0Z" fill="#8a00ec"/>
<path d="M190.3 175.2L187.2 181.9 184.5 182.5 187.6 175.8ZM185.8 184.5L182.7 191.2 179.8 191.6 182.9 184.9ZM181.2 193.7L178.2 200.4 175.1 200.7 178.2 194.0Z" fill="#990cef"/>
<path d="M188.2 175.7L185.1 182.5 181.7 182.4 184.8 175.6ZM183.5 184.9L180.4 191.6 177.0 191.4 180.1 184.6ZM176.7 202.9L173.6 209.7 170.4 209.8 173.5 203.1Z" fill="#a718f1"/>
<path d="M185.4 175.7L182.4 182.4 178.9 181.8 182.0 175.1ZM180.7 184.7L177.7 191.5 174.3 190.8 177.3 184.0ZM176.0 193.8L172.9 200.5 169.6 199.7 172.7 193.0Z" fill="#c430f7"/>
<path d="M182.6 175.2L179.5 182.0 176.6 181.1 179.7 174.4ZM177.9 184.2L174.8 190.9 172.1 190.1 175.2 183.3Z" fill="#d33cfa"/>
<path d="M180.2 174.5L177.1 181.2 175.3 180.5 178.3 173.8ZM173.2 193.1L170.2 199.9 167.7 199.0 170.7 192.3Z" fill="#e148fc"/>
<path d="M178.6 173.9L175.5 180.6 175.0 180.3 178.1 173.6ZM175.6 183.5L172.5 190.2 171.0 189.5 174.0 182.8ZM174.2 182.9L171.2 189.6 171.0 189.4 174.1 182.7ZM171.1 192.4L168.0 199.2 166.8 198.6 169.8 191.8Z" fill="#f054ff"/>
<path d="M178.8 194.0L175.8 200.7 172.3 200.4 175.3 193.6Z" fill="#b624f4"/>
<path d="M172.8 205.9L173.8 212.0 174.2 211.9 173.2 205.7ZM174.4 215.8L175.4 221.9 176.1 221.7 175.1 215.6ZM176.0 225.6L177.0 231.7 178.1 231.5 177.0 225.4ZM177.7 235.4L178.7 241.6 180.0 241.3 179.0 235.2Z" fill="#6000b0"/>
<path d="M173.0 205.8L174.0 211.9 175.9 211.6 174.9 205.5ZM174.8 215.6L175.8 221.7 178.0 221.5 177.0 215.3ZM176.7 225.4L177.7 231.5 180.2 231.3 179.2 225.2ZM178.6 235.2L179.6 241.4 182.4 241.2 181.4 235.0Z" fill="#6501b5"/>
<path d="M174.4 205.5L175.4 211.7 178.5 211.6 177.5 205.4ZM176.5 215.4L177.5 221.5 180.8 221.4 179.8 215.3ZM178.6 225.2L179.6 231.3 183.0 231.3 182.0 225.2Z" fill="#6b01bb"/>
<path d="M176.9 205.4L177.9 211.5 181.5 211.8 180.5 205.6ZM180.8 235.0L181.8 241.2 185.3 241.2 184.3 235.1Z" fill="#7002c0"/>
<path d="M179.8 205.5L180.8 211.7 184.3 212.4 183.3 206.2ZM182.1 215.5L183.1 221.6 186.5 222.4 185.5 216.3ZM184.3 225.4L185.3 231.6 188.6 232.5 187.6 226.4Z" fill="#7b03cb"/>
<path d="M182.7 206.1L183.7 212.2 186.4 213.4 185.4 207.3ZM184.9 216.1L185.9 222.2 188.3 223.5 187.3 217.4ZM187.1 226.1L188.1 232.3 190.2 233.7 189.2 227.6ZM186.6 235.4L187.6 241.6 190.6 242.6 189.6 236.5Z" fill="#8103d1"/>
<path d="M185.0 207.0L186.0 213.1 187.4 214.8 186.3 208.7ZM187.0 217.1L188.0 223.2 189.0 225.0 188.0 218.9ZM188.9 227.3L189.9 233.4 190.6 235.2 189.6 229.1ZM189.2 236.2L190.2 242.3 192.0 243.9 191.0 237.7ZM190.8 237.4L191.8 243.5 192.1 245.4 191.1 239.3Z" fill="#8604d6"/>
<path d="M179.1 215.3L180.1 221.4 183.8 221.7 182.8 215.6ZM181.3 225.2L182.3 231.3 186.0 231.7 185.0 225.6ZM183.6 235.1L184.6 241.2 188.2 241.7 187.2 235.6Z" fill="#7602c6"/>
<path d="M173.9 205.2L175.1 212.5 173.9 212.6 172.7 205.3ZM175.1 215.1L176.3 222.4 175.5 222.5 174.3 215.2ZM176.5 225.0L177.7 232.3 177.1 232.3 175.9 225.0ZM179.4 234.6L180.6 241.9 178.9 242.2 177.7 234.9ZM177.9 234.9L179.1 242.2 178.9 242.1 177.7 234.8Z" fill="#f054ff"/>
<path d="M186.1 207.7L187.3 215.0 187.1 217.0 185.9 209.7ZM187.9 217.9L189.1 225.2 188.5 227.2 187.3 219.9ZM189.5 228.1L190.7 235.4 189.8 237.4 188.6 230.1ZM191.1 238.3L192.3 245.6 191.1 247.7 189.9 240.4Z" fill="#8a00ec"/>
<path d="M186.1 209.3L187.3 216.6 185.5 218.6 184.3 211.3ZM187.5 219.5L188.7 226.8 186.7 228.8 185.5 221.5ZM188.9 229.7L190.1 237.0 187.8 239.0 186.6 231.7Z" fill="#990cef"/>
<path d="M184.8 211.0L186.0 218.3 183.1 220.1 181.9 212.8ZM186.0 221.2L187.2 228.5 184.1 230.3 182.9 223.0ZM187.1 231.4L188.3 238.7 185.2 240.4 184.0 233.1Z" fill="#a718f1"/>
<path d="M182.5 212.5L183.7 219.8 180.3 221.3 179.1 214.0Z" fill="#b624f4"/>
<path d="M179.7 213.8L180.9 221.1 177.8 222.1 176.6 214.8ZM180.8 223.9L182.0 231.2 179.0 232.1 177.8 224.8ZM181.8 233.9L183.0 241.2 180.2 242.0 179.0 234.7Z" fill="#d33cfa"/>
<path d="M177.1 214.6L178.3 222.0 176.0 222.5 174.8 215.2ZM178.2 224.6L179.4 231.9 177.4 232.3 176.2 225.0Z" fill="#e148fc"/>
<path d="M183.5 222.7L184.7 230.0 181.4 231.4 180.2 224.1ZM184.6 232.8L185.8 240.1 182.4 241.4 181.2 234.1Z" fill="#c430f7"/>
<path d="M197.1 214.2L203.1 216.0 203.1 215.6 197.1 213.8ZM206.7 217.1L212.6 219.0 212.7 218.6 206.7 216.7Z" fill="#6000b0"/>
<path d="M197.1 214.0L203.0 215.8 203.6 214.2 197.7 212.3ZM206.7 216.9L212.6 218.8 213.2 217.0 207.2 215.2Z" fill="#6501b5"/>
<path d="M197.5 212.7L203.4 214.6 204.6 212.0 198.7 210.1ZM207.1 215.6L213.0 217.5 214.2 214.8 208.3 213.0Z" fill="#6b01bb"/>
<path d="M198.4 210.7L204.3 212.5 206.0 209.5 200.1 207.7ZM208.0 213.5L213.9 215.4 215.6 212.4 209.7 210.6Z" fill="#7002c0"/>
<path d="M199.7 208.2L205.7 210.1 207.8 207.4 201.8 205.6Z" fill="#7b03cb"/>
<path d="M201.4 206.0L207.3 207.8 209.6 206.0 203.6 204.2Z" fill="#8103d1"/>
<path d="M203.2 204.4L209.2 206.2 211.2 205.7 205.3 203.9Z" fill="#8604d6"/>
<path d="M196.9 213.0L204.0 215.2 203.6 216.3 196.5 214.1ZM206.5 216.0L213.5 218.2 213.2 219.2 206.1 217.0Z" fill="#f054ff"/>
<path d="M204.4 203.7L211.4 205.8 213.1 206.7 206.0 204.6Z" fill="#8a00ec"/>
<path d="M205.8 204.3L212.8 206.4 214.0 208.7 206.9 206.5Z" fill="#990cef"/>
<path d="M206.7 206.0L213.8 208.1 214.3 211.3 207.3 209.1Z" fill="#a718f1"/>
<path d="M207.2 208.5L214.3 210.6 214.2 214.1 207.2 212.0Z" fill="#b624f4"/>
<path d="M207.2 211.3L214.3 213.5 213.9 216.7 206.8 214.5Z" fill="#d33cfa"/>
<path d="M206.9 214.0L214.0 216.2 213.5 218.5 206.4 216.3Z" fill="#e148fc"/>
<path d="M161.1 159.5L160.3 165.7 161.2 165.7 162.0 159.5ZM159.8 169.4L159.0 175.6 160.2 175.7 161.0 169.5ZM158.6 179.3L157.8 185.5 159.3 185.6 160.1 179.5ZM157.3 189.3L156.5 195.5 156.8 195.4 157.6 189.2ZM155.9 199.2L155.1 205.3 155.8 205.3 156.6 199.2Z" fill="#6000b0"/>
<path d="M161.7 159.5L160.9 165.7 163.1 166.1 163.9 159.9ZM160.7 169.4L159.9 175.6 162.3 176.1 163.1 170.0ZM159.7 179.4L158.9 185.6 161.5 186.2 162.3 180.0ZM157.4 189.2L156.6 195.4 158.4 195.6 159.2 189.5ZM156.3 199.1L155.5 205.3 157.5 205.7 158.3 199.5Z" fill="#6501b5"/>
<path d="M163.4 159.8L162.6 166.0 165.7 166.9 166.5 160.7ZM162.6 169.8L161.8 176.0 164.9 177.0 165.7 170.8ZM158.7 189.4L157.9 195.5 160.8 196.3 161.6 190.1ZM157.8 199.4L157.0 205.5 160.0 206.4 160.8 200.2Z" fill="#6b01bb"/>
<path d="M165.9 160.5L165.1 166.7 168.3 168.0 169.1 161.9ZM165.1 170.6L164.3 176.8 167.5 178.2 168.3 172.1ZM164.4 180.7L163.6 186.9 166.7 188.4 167.5 182.3Z" fill="#7602c6"/>
<path d="M168.5 161.6L167.7 167.7 170.5 169.5 171.3 163.3ZM163.6 190.9L162.8 197.0 165.8 198.7 166.7 192.5ZM162.9 201.0L162.1 207.2 165.0 208.9 165.8 202.7Z" fill="#7b03cb"/>
<path d="M170.9 163.0L170.1 169.1 171.7 171.1 172.5 165.0ZM167.8 171.8L167.0 177.9 169.5 179.7 170.3 173.6ZM167.0 182.0L166.2 188.1 168.5 190.0 169.3 183.8ZM166.2 192.2L165.3 198.3 167.5 200.2 168.3 194.1ZM165.3 202.4L164.5 208.5 166.4 210.5 167.2 204.3Z" fill="#8103d1"/>
<path d="M172.4 164.6L171.6 170.7 171.8 172.7 172.6 166.5ZM170.0 173.2L169.1 179.4 170.6 181.4 171.4 175.2ZM171.2 174.8L170.4 181.0 170.3 182.9 171.1 176.7ZM169.0 183.5L168.2 189.6 169.3 191.6 170.1 185.4ZM168.0 193.7L167.2 199.9 168.0 201.8 168.8 195.7ZM167.0 203.9L166.2 210.1 166.7 212.1 167.5 205.9Z" fill="#8604d6"/>
<path d="M161.8 179.9L161.0 186.0 164.2 187.1 165.0 181.0ZM161.0 189.9L160.2 196.1 163.4 197.3 164.2 191.1ZM160.2 200.0L159.4 206.2 162.7 207.5 163.5 201.3Z" fill="#7002c0"/>
<path d="M163.6 159.2L162.6 166.5 160.6 166.4 161.6 159.0ZM161.9 169.1L160.9 176.4 159.1 176.2 160.1 168.9ZM162.5 179.0L161.5 186.4 158.8 186.3 159.8 179.0ZM160.7 189.0L159.7 196.3 157.2 196.2 158.2 188.8ZM158.9 198.9L157.9 206.2 155.6 206.1 156.6 198.7Z" fill="#e148fc"/>
<path d="M161.8 159.1L160.9 166.4 160.2 166.2 161.2 158.9ZM160.3 168.9L159.3 176.3 159.0 176.1 160.0 168.8ZM160.2 179.0L159.2 186.3 157.7 186.1 158.7 178.8ZM158.8 178.8L157.9 186.2 157.9 186.1 158.8 178.7ZM158.5 188.9L157.6 196.2 156.3 196.0 157.3 188.7ZM156.9 198.8L155.9 206.1 155.0 205.9 156.0 198.6Z" fill="#f054ff"/>
<path d="M172.8 165.6L171.8 172.9 170.5 174.6 171.5 167.3ZM171.4 175.8L170.4 183.1 168.9 184.8 169.8 177.4ZM170.1 184.5L169.2 191.8 168.8 193.7 169.7 186.3ZM170.0 186.0L169.0 193.4 167.1 194.9 168.1 187.6ZM168.9 194.7L167.9 202.1 167.2 203.9 168.2 196.5Z" fill="#8a00ec"/>
<path d="M171.9 167.0L170.9 174.3 168.3 175.6 169.3 168.3ZM170.2 177.2L169.3 184.5 166.5 185.7 167.5 178.4ZM168.6 187.3L167.6 194.7 164.7 195.8 165.6 188.4ZM168.5 196.2L167.5 203.6 165.4 205.0 166.4 197.7Z" fill="#990cef"/>
<path d="M169.9 168.1L168.9 175.4 165.6 176.2 166.5 168.9ZM166.9 197.5L165.9 204.8 162.8 205.8 163.7 198.5Z" fill="#a718f1"/>
<path d="M167.2 168.8L166.2 176.1 162.7 176.5 163.7 169.1ZM165.3 178.8L164.3 186.1 160.9 186.4 161.9 179.1Z" fill="#c430f7"/>
<path d="M164.3 169.1L163.4 176.4 160.5 176.4 161.4 169.1ZM163.4 188.8L162.5 196.1 159.1 196.3 160.1 189.0ZM161.5 198.8L160.6 206.1 157.4 206.2 158.3 198.9Z" fill="#d33cfa"/>
<path d="M168.1 178.2L167.1 185.5 163.7 186.2 164.6 178.9ZM166.2 188.3L165.3 195.6 161.8 196.2 162.8 188.9ZM164.4 198.3L163.4 205.6 159.9 206.2 160.9 198.8Z" fill="#b624f4"/>
<path d="M150.1 164.7L149.4 170.9 149.5 170.8 150.2 164.6ZM150.1 164.6L149.3 170.8 150.8 171.0 151.6 164.8ZM148.9 174.6L148.1 180.8 148.4 180.7 149.1 174.6ZM148.9 174.5L148.2 180.7 149.9 181.0 150.6 174.8ZM147.6 184.5L146.9 190.7 147.3 190.7 148.1 184.5ZM146.4 194.5L145.6 200.6 146.3 200.6 147.0 194.4ZM145.1 204.4L144.4 210.5 145.3 210.6 146.0 204.4ZM144.0 214.3L143.2 220.5 144.3 220.5 145.0 214.4Z" fill="#6000b0"/>
<path d="M151.2 164.7L150.4 170.9 153.1 171.5 153.8 165.3ZM147.8 184.5L147.1 190.7 149.0 190.9 149.7 184.8ZM146.8 194.4L146.0 200.6 148.1 200.9 148.8 194.8ZM145.7 204.4L145.0 210.5 147.2 210.9 147.9 204.8ZM144.7 214.3L143.9 220.5 146.3 220.9 147.0 214.8Z" fill="#6501b5"/>
<path d="M153.3 165.2L152.5 171.3 155.7 172.4 156.5 166.3ZM152.4 175.2L151.6 181.4 154.9 182.5 155.6 176.4ZM151.5 185.2L150.8 191.4 154.1 192.6 154.8 186.4ZM150.7 195.3L149.9 201.4 153.2 202.7 154.0 196.5Z" fill="#7002c0"/>
<path d="M155.9 166.0L155.1 172.2 158.2 173.7 159.0 167.5ZM149.8 205.3L149.1 211.5 152.4 212.8 153.1 206.6ZM149.0 215.3L148.3 221.5 151.5 222.9 152.2 216.7Z" fill="#7602c6"/>
<path d="M158.5 167.2L157.7 173.4 160.1 175.2 160.8 169.1ZM157.6 177.3L156.8 183.5 159.1 185.4 159.8 179.2ZM156.7 187.5L155.9 193.6 158.0 195.5 158.8 189.4ZM155.8 197.6L155.0 203.8 157.0 205.7 157.7 199.5ZM154.9 207.7L154.1 213.9 155.9 215.8 156.6 209.6ZM153.9 217.8L153.2 224.0 154.8 226.0 155.5 219.8Z" fill="#8103d1"/>
<path d="M160.5 168.7L159.7 174.9 160.9 176.8 161.6 170.7ZM159.5 178.8L158.8 185.0 159.7 187.0 160.4 180.8ZM158.5 189.0L157.7 195.2 158.5 197.1 159.2 190.9ZM157.5 199.1L156.7 205.3 157.2 207.2 158.0 201.1ZM156.4 209.3L155.7 215.4 156.0 217.4 156.7 211.2ZM155.3 219.4L154.6 225.6 154.7 227.5 155.5 221.3Z" fill="#8604d6"/>
<path d="M150.2 174.7L149.5 180.9 152.2 181.5 153.0 175.4ZM149.3 184.7L148.5 190.8 151.4 191.6 152.1 185.4ZM148.3 194.6L147.6 200.8 150.5 201.6 151.3 195.5ZM147.4 204.6L146.7 210.8 149.7 211.7 150.5 205.5ZM146.5 214.6L145.8 220.8 148.9 221.7 149.6 215.6Z" fill="#6b01bb"/>
<path d="M155.0 176.1L154.3 182.3 157.3 183.8 158.1 177.7ZM154.2 186.2L153.5 192.3 156.4 194.0 157.2 187.8ZM153.4 196.2L152.6 202.4 155.5 204.1 156.2 197.9ZM152.5 206.3L151.8 212.5 154.6 214.2 155.3 208.1ZM151.7 216.4L150.9 222.6 153.6 224.4 154.3 218.2Z" fill="#7b03cb"/>
<path d="M156.6 164.1L155.7 171.4 152.3 171.7 153.2 164.4ZM155.0 174.1L154.1 181.4 150.8 181.6 151.7 174.3ZM153.1 203.6L152.2 210.9 148.7 211.4 149.6 204.0ZM151.5 213.6L150.6 220.9 147.1 221.3 148.0 214.0Z" fill="#c430f7"/>
<path d="M153.8 164.3L152.9 171.7 150.2 171.6 151.1 164.3ZM152.2 174.3L151.3 181.6 148.8 181.5 149.7 174.2ZM150.7 184.2L149.8 191.6 147.4 191.4 148.3 184.1ZM149.2 194.1L148.3 201.5 146.1 201.3 147.0 194.0ZM147.7 204.1L146.8 211.4 144.7 211.2 145.6 203.9ZM146.2 214.0L145.3 221.3 143.4 221.2 144.3 213.8Z" fill="#e148fc"/>
<path d="M151.5 164.3L150.6 171.7 149.2 171.5 150.1 164.1ZM150.1 174.2L149.2 181.6 147.9 181.4 148.8 174.0ZM148.7 184.1L147.8 191.5 146.7 191.3 147.6 183.9ZM147.3 194.0L146.4 201.4 145.5 201.2 146.4 193.9ZM145.9 203.9L145.0 211.3 144.4 211.1 145.2 203.8ZM144.5 213.8L143.6 221.2 143.2 221.0 144.1 213.7Z" fill="#f054ff"/>
<path d="M161.6 169.7L160.7 177.1 160.3 178.9 161.2 171.6ZM161.4 171.2L160.6 178.6 158.7 180.2 159.6 172.8ZM160.5 179.8L159.6 187.2 159.0 189.0 159.9 181.7ZM159.3 190.0L158.4 197.3 157.6 199.1 158.5 191.8ZM158.1 200.1L157.2 207.5 156.2 209.2 157.1 201.9ZM156.9 210.3L156.0 217.6 154.8 219.3 155.7 212.0ZM155.6 220.4L154.8 227.7 153.4 229.4 154.3 222.1Z" fill="#8a00ec"/>
<path d="M160.1 172.5L159.2 179.9 156.3 181.0 157.2 173.7ZM160.1 181.4L159.2 188.7 157.2 190.2 158.1 182.9ZM158.8 191.5L157.9 198.8 155.7 200.3 156.6 192.9ZM157.4 201.6L156.5 208.9 154.2 210.3 155.1 203.0ZM156.0 211.7L155.2 219.0 152.7 220.4 153.6 213.0Z" fill="#990cef"/>
<path d="M157.8 173.5L156.9 180.8 153.4 181.5 154.3 174.2ZM156.2 183.5L155.3 190.9 151.8 191.5 152.7 184.1ZM154.6 193.6L153.8 200.9 150.3 201.4 151.2 194.1Z" fill="#b624f4"/>
<path d="M158.6 182.6L157.7 190.0 154.7 191.0 155.6 183.7ZM157.1 192.7L156.2 200.0 153.1 201.0 154.0 193.7ZM155.6 202.8L154.8 210.1 151.5 211.0 152.4 203.7ZM154.1 212.8L153.2 220.2 149.9 221.0 150.8 213.7Z" fill="#a718f1"/>
<path d="M153.4 184.0L152.5 191.4 149.3 191.6 150.1 184.2ZM151.8 194.0L150.9 201.4 147.8 201.5 148.6 194.1ZM150.2 204.0L149.3 211.3 146.3 211.4 147.2 204.0ZM148.6 213.9L147.8 221.3 144.8 221.3 145.7 214.0Z" fill="#d33cfa"/>
<path d="M158.5 188.1L155.7 193.7 158.3 195.5 161.1 189.9ZM154.1 197.1L151.3 202.7 153.9 204.5 156.6 198.9ZM149.7 206.1L146.9 211.6 149.4 213.5 152.2 207.9ZM145.2 215.0L142.5 220.6 145.0 222.5 147.8 216.9Z" fill="#6b01bb"/>
<path d="M160.6 189.5L157.8 195.1 160.4 197.4 163.2 191.9ZM156.1 198.5L153.4 204.1 156.0 206.4 158.7 200.9ZM151.7 207.5L149.0 213.1 151.5 215.4 154.3 209.9ZM147.3 216.5L144.5 222.1 147.1 224.4 149.9 218.8Z" fill="#7602c6"/>
<path d="M162.7 191.4L159.9 197.0 162.0 199.5 164.8 193.9ZM158.3 200.4L155.5 205.9 157.6 208.5 160.3 202.9ZM153.9 209.4L151.1 214.9 153.1 217.5 155.9 211.9ZM149.5 218.4L146.7 223.9 148.7 226.5 151.5 220.9Z" fill="#7b03cb"/>
<path d="M164.5 193.5L161.7 199.0 162.7 201.4 165.5 195.9ZM160.0 202.5L157.3 208.0 158.3 210.4 161.1 204.9ZM155.6 211.4L152.8 217.0 153.8 219.4 156.6 213.8ZM151.2 220.4L148.4 226.0 149.3 228.4 152.1 222.8Z" fill="#8103d1"/>
<path d="M165.5 195.4L162.7 201.0 162.4 203.0 165.2 197.4ZM161.0 204.4L158.2 210.0 157.9 211.9 160.7 206.4ZM156.5 213.4L153.8 219.0 153.4 220.9 156.2 215.3ZM152.1 222.4L149.3 228.0 148.9 229.9 151.7 224.3Z" fill="#8604d6"/>
<path d="M152.1 196.1L149.3 201.6 150.1 202.0 152.9 196.4ZM147.6 205.0L144.8 210.6 145.7 210.9 148.4 205.4ZM143.1 214.0L140.3 219.5 141.2 219.9 144.0 214.3Z" fill="#6000b0"/>
<path d="M152.6 196.3L149.8 201.8 151.7 202.9 154.5 197.4ZM148.2 205.2L145.4 210.8 147.3 211.9 150.1 206.4ZM143.7 214.2L140.9 219.7 142.9 220.9 145.7 215.3Z" fill="#6501b5"/>
<path d="M165.6 196.6L162.3 203.2 160.7 204.4 164.0 197.8ZM161.1 205.5L157.8 212.1 156.2 213.4 159.5 206.8ZM156.7 214.5L153.3 221.1 151.7 222.4 155.0 215.7ZM152.2 223.5L148.9 230.1 147.2 231.3 150.5 224.7Z" fill="#8a00ec"/>
<path d="M164.4 197.6L161.1 204.3 158.4 204.8 161.7 198.1ZM159.9 206.6L156.6 213.2 153.9 213.7 157.2 207.1ZM155.4 215.6L152.1 222.2 149.4 222.6 152.7 216.0ZM150.9 224.5L147.6 231.2 144.8 231.6 148.1 225.0Z" fill="#990cef"/>
<path d="M162.3 198.1L159.0 204.7 155.7 204.5 159.0 197.9ZM157.8 207.1L154.5 213.7 151.1 213.4 154.5 206.8ZM153.3 216.0L150.0 222.6 146.6 222.4 149.9 215.7ZM148.7 225.0L145.4 231.6 142.1 231.3 145.4 224.7Z" fill="#a718f1"/>
<path d="M159.6 198.0L156.3 204.6 152.9 203.8 156.2 197.2ZM155.1 206.9L151.8 213.5 148.4 212.8 151.7 206.1ZM150.6 215.8L147.3 222.5 143.9 221.7 147.2 215.1Z" fill="#c430f7"/>
<path d="M156.9 197.4L153.5 204.0 150.7 203.1 154.0 196.4ZM152.3 206.3L149.0 212.9 146.2 212.0 149.5 205.4ZM147.8 215.2L144.5 221.9 141.7 220.9 145.0 214.3Z" fill="#d33cfa"/>
<path d="M154.5 196.6L151.1 203.2 149.3 202.4 152.6 195.8ZM149.9 205.5L146.6 212.1 144.8 211.3 148.1 204.7ZM145.4 214.5L142.1 221.1 140.3 220.3 143.6 213.7Z" fill="#e148fc"/>
<path d="M152.9 195.9L149.5 202.5 149.0 202.2 152.3 195.5ZM148.4 204.8L145.0 211.5 144.6 211.1 147.9 204.5ZM143.9 213.8L140.6 220.4 140.1 220.1 143.4 213.4Z" fill="#f054ff"/>
<path d="M132.1 167.5L129.9 173.4 130.9 173.6 133.0 167.8ZM128.6 176.9L126.5 182.7 127.6 183.1 129.7 177.2ZM125.2 186.3L123.1 192.1 124.2 192.5 126.3 186.6ZM121.8 195.7L119.7 201.5 120.9 201.9 123.0 196.1Z" fill="#6000b0"/>
<path d="M132.7 167.7L130.6 173.5 132.7 174.5 134.9 168.6ZM129.4 177.1L127.2 182.9 129.4 183.9 131.5 178.1ZM126.0 186.5L123.9 192.4 126.1 193.4 128.2 187.5ZM122.7 195.9L120.5 201.8 122.8 202.8 124.9 197.0Z" fill="#6501b5"/>
<path d="M134.4 168.4L132.3 174.2 135.0 175.8 137.2 170.0ZM131.1 177.8L128.9 183.7 131.7 185.3 133.8 179.4ZM127.7 187.3L125.6 193.1 128.4 194.7 130.5 188.9ZM124.4 196.7L122.3 202.6 125.1 204.2 127.2 198.4Z" fill="#6b01bb"/>
<path d="M136.6 169.6L134.5 175.4 137.3 177.5 139.4 171.7ZM133.3 179.1L131.2 184.9 134.0 187.0 136.1 181.2ZM130.0 188.5L127.9 194.4 130.7 196.5 132.8 190.6ZM126.7 198.0L124.6 203.8 127.3 206.0 129.5 200.1Z" fill="#7602c6"/>
<path d="M139.0 171.2L136.8 177.1 139.1 179.4 141.2 173.6ZM135.6 180.7L133.5 186.6 135.7 188.9 137.8 183.0ZM132.3 190.2L130.2 196.0 132.4 198.4 134.5 192.5ZM129.0 199.7L126.9 205.5 129.0 207.8 131.1 202.0Z" fill="#7b03cb"/>
<path d="M140.9 173.1L138.8 179.0 139.9 181.2 142.0 175.4ZM137.5 182.6L135.4 188.4 136.5 190.7 138.6 184.8ZM134.2 192.1L132.1 197.9 133.1 200.2 135.2 194.3Z" fill="#8103d1"/>
<path d="M141.9 175.0L139.8 180.8 139.6 182.7 141.7 176.9ZM138.6 184.4L136.4 190.3 136.2 192.2 138.3 186.3ZM135.2 193.9L133.0 199.8 132.7 201.6 134.8 195.8ZM130.8 201.6L128.7 207.4 129.7 209.6 131.8 203.8Z" fill="#8604d6"/>
<path d="M132.7 167.2L130.2 174.2 129.8 173.9 132.3 167.0ZM129.3 176.6L126.7 183.6 126.4 183.3 128.9 176.4ZM125.8 186.0L123.3 192.9 123.0 192.7 125.5 185.8ZM123.8 195.8L121.3 202.8 119.6 202.2 122.2 195.3ZM122.4 195.4L119.8 202.3 119.6 202.1 122.1 195.2Z" fill="#f054ff"/>
<path d="M142.1 176.0L139.6 183.0 138.0 184.3 140.5 177.4ZM138.7 185.5L136.1 192.4 134.5 193.8 137.0 186.8ZM135.2 194.9L132.7 201.9 131.0 203.2 133.5 196.2Z" fill="#8a00ec"/>
<path d="M140.9 177.2L138.4 184.1 135.7 184.8 138.2 177.9ZM137.4 186.6L134.9 193.6 132.1 194.2 134.6 187.3ZM133.9 196.0L131.4 203.0 128.6 203.7 131.1 196.7Z" fill="#990cef"/>
<path d="M138.8 177.8L136.2 184.8 132.8 184.8 135.4 177.9ZM135.2 187.2L132.7 194.2 129.3 194.2 131.8 187.3ZM131.7 196.6L129.2 203.6 125.8 203.6 128.3 196.7Z" fill="#a718f1"/>
<path d="M136.0 177.9L133.5 184.9 130.1 184.5 132.6 177.5ZM132.5 187.3L130.0 194.3 126.5 193.8 129.1 186.9ZM128.9 196.7L126.4 203.7 123.0 203.2 125.5 196.3Z" fill="#c430f7"/>
<path d="M133.2 177.6L130.7 184.6 127.8 183.9 130.4 177.0ZM129.7 187.0L127.1 193.9 124.3 193.3 126.9 186.4ZM126.1 196.4L123.6 203.3 120.8 202.7 123.4 195.7Z" fill="#d33cfa"/>
<path d="M130.8 177.1L128.3 184.1 126.5 183.5 129.1 176.5ZM127.3 186.5L124.8 193.4 123.1 192.9 125.6 185.9Z" fill="#e148fc"/>
<path d="M117.3 163.2L119.7 168.9 119.6 168.8 117.2 163.1ZM117.3 163.0L119.8 168.8 118.4 169.4 115.9 163.6ZM121.2 172.4L123.6 178.1 123.4 178.1 121.0 172.3ZM121.2 172.3L123.6 178.0 122.1 178.7 119.7 172.9ZM125.1 181.5L127.6 187.3 127.2 187.3 124.8 181.6ZM129.1 190.7L131.5 196.5 131.0 196.6 128.6 190.8ZM133.0 199.9L135.4 205.7 134.7 205.8 132.3 200.1ZM136.8 209.1L139.3 214.9 138.5 215.1 136.1 209.4ZM140.7 218.3L143.1 224.1 142.2 224.4 139.8 218.6Z" fill="#6000b0"/>
<path d="M116.3 163.4L118.7 169.2 116.4 170.5 113.9 164.7ZM120.0 172.7L122.4 178.5 120.0 179.8 117.6 174.1ZM125.0 181.5L127.4 187.2 125.8 188.0 123.3 182.2ZM128.8 190.8L131.2 196.5 129.4 197.3 127.0 191.6ZM132.6 200.0L135.0 205.7 133.1 206.6 130.7 200.9ZM136.3 209.3L138.8 215.0 136.8 215.9 134.4 210.2ZM140.1 218.5L142.5 224.3 140.5 225.3 138.1 219.5Z" fill="#6501b5"/>
<path d="M114.4 164.4L116.9 170.2 114.1 172.1 111.7 166.4ZM118.1 173.8L120.5 179.5 117.7 181.5 115.3 175.8ZM121.8 183.1L124.2 188.9 121.4 190.9 119.0 185.2ZM125.4 192.5L127.8 198.2 125.0 200.3 122.6 194.6ZM129.1 201.9L131.5 207.6 128.7 209.7 126.3 204.0Z" fill="#7002c0"/>
<path d="M112.2 165.9L114.6 171.7 112.0 174.0 109.6 168.3ZM132.7 211.2L135.1 217.0 132.4 219.1 129.9 213.4ZM136.4 220.6L138.8 226.3 136.0 228.5 133.6 222.8Z" fill="#7602c6"/>
<path d="M110.0 167.8L112.4 173.5 110.6 176.0 108.2 170.2ZM113.7 177.2L116.1 183.0 114.4 185.4 112.0 179.6ZM117.4 186.6L119.8 192.4 118.2 194.8 115.8 189.0ZM121.1 196.1L123.5 201.8 122.0 204.2 119.6 198.4ZM124.8 205.5L127.2 211.2 125.9 213.6 123.5 207.8ZM128.5 214.9L130.9 220.6 129.7 223.0 127.3 217.2ZM132.2 224.3L134.6 230.0 133.5 232.4 131.1 226.6Z" fill="#8103d1"/>
<path d="M108.4 169.8L110.9 175.5 110.3 177.7 107.9 172.0ZM112.2 179.2L114.6 184.9 114.2 187.1 111.8 181.4ZM116.0 188.6L118.4 194.3 118.1 196.5 115.7 190.7ZM119.8 198.0L122.2 203.7 122.0 205.8 119.6 200.1ZM123.6 207.4L126.0 213.1 126.0 215.2 123.6 209.4ZM127.4 216.8L129.8 222.6 129.9 224.5 127.5 218.8ZM131.2 226.2L133.6 232.0 133.9 233.9 131.5 228.1Z" fill="#8604d6"/>
<path d="M115.8 175.3L118.2 181.1 115.7 183.4 113.3 177.7ZM119.5 184.7L121.9 190.5 119.4 192.8 117.0 187.1ZM123.1 194.1L125.5 199.9 123.1 202.3 120.7 196.5ZM126.8 203.5L129.2 209.3 126.8 211.7 124.4 205.9ZM130.4 212.9L132.8 218.7 130.6 221.1 128.2 215.4ZM134.1 222.3L136.5 228.1 134.3 230.5 131.9 224.8Z" fill="#7b03cb"/>
<path d="M123.7 182.0L126.2 187.8 123.7 189.2 121.2 183.5ZM127.5 191.3L129.9 197.1 127.3 198.6 124.9 192.8ZM131.2 200.6L133.6 206.4 131.0 207.9 128.5 202.2ZM134.8 210.0L137.3 215.7 134.6 217.3 132.2 211.6ZM138.5 219.3L140.9 225.0 138.2 226.7 135.8 221.0Z" fill="#6b01bb"/>
<path d="M110.9 164.3L113.8 171.1 117.1 170.5 114.2 163.6ZM115.1 173.5L118.0 180.3 121.2 179.6 118.4 172.8ZM128.9 210.5L131.8 217.4 135.2 216.9 132.4 210.0ZM133.1 219.7L135.9 226.6 139.4 226.0 136.5 219.2Z" fill="#c430f7"/>
<path d="M113.7 163.8L116.6 170.6 119.1 169.8 116.2 163.0ZM117.8 172.9L120.7 179.8 123.1 179.0 120.2 172.2ZM121.9 182.1L124.8 188.9 127.1 188.2 124.3 181.3ZM126.0 191.2L128.9 198.1 131.1 197.3 128.3 190.5ZM130.2 200.4L133.0 207.2 135.1 206.5 132.2 199.7ZM134.3 209.5L137.1 216.4 139.1 215.7 136.2 208.8ZM138.3 218.7L141.2 225.5 143.1 224.8 140.2 218.0Z" fill="#e148fc"/>
<path d="M115.8 163.1L118.7 170.0 120.0 169.4 117.2 162.6ZM119.9 172.3L122.8 179.1 124.0 178.6 121.1 171.8ZM123.9 181.5L126.8 188.3 127.8 187.8 125.0 181.0ZM128.0 190.6L130.8 197.4 131.7 197.0 128.9 190.2ZM132.0 199.8L134.8 206.6 135.6 206.2 132.7 199.4ZM136.0 208.9L138.8 215.8 139.5 215.4 136.6 208.6ZM140.0 218.1L142.8 224.9 143.3 224.6 140.5 217.8Z" fill="#f054ff"/>
<path d="M107.6 171.1L110.5 177.9 111.3 179.6 108.5 172.8ZM108.2 172.5L111.0 179.3 113.2 180.3 110.3 173.5ZM111.5 180.4L114.4 187.3 115.4 188.9 112.5 182.1ZM112.2 181.8L115.0 188.7 117.3 189.6 114.4 182.8ZM115.4 189.8L118.3 196.6 119.4 198.2 116.5 191.4ZM119.3 199.2L122.2 206.0 123.4 207.5 120.6 200.7ZM123.2 208.6L126.1 215.4 127.5 216.8 124.6 210.0ZM127.1 217.9L130.0 224.8 131.5 226.1 128.7 219.3ZM131.1 227.3L133.9 234.1 135.6 235.4 132.7 228.6Z" fill="#8a00ec"/>
<path d="M109.8 173.4L112.7 180.2 115.8 180.5 112.9 173.7ZM116.2 191.2L119.0 198.0 121.4 198.9 118.5 192.0ZM120.2 200.5L123.1 207.3 125.5 208.1 122.7 201.3ZM124.2 209.8L127.1 216.6 129.7 217.4 126.8 210.5ZM128.3 219.1L131.1 225.9 133.8 226.6 130.9 219.8Z" fill="#990cef"/>
<path d="M112.3 173.7L115.1 180.5 118.6 180.2 115.8 173.4ZM116.4 182.9L119.3 189.7 122.8 189.4 119.9 182.6ZM120.6 192.1L123.4 199.0 126.9 198.5 124.1 191.7ZM124.7 201.3L127.6 208.2 131.1 207.7 128.2 200.9Z" fill="#b624f4"/>
<path d="M113.9 182.7L116.8 189.5 119.9 189.7 117.1 182.9ZM118.0 191.9L120.9 198.8 124.1 198.9 121.2 192.1ZM122.1 201.2L125.0 208.0 128.3 208.1 125.4 201.3ZM126.2 210.5L129.1 217.3 132.4 217.3 129.6 210.5ZM130.4 219.7L133.2 226.5 136.6 226.5 133.7 219.7Z" fill="#a718f1"/>
<path d="M119.3 182.7L122.1 189.5 125.3 188.8 122.5 182.0ZM123.4 191.8L126.3 198.7 129.4 197.9 126.6 191.1ZM127.6 201.0L130.5 207.8 133.5 207.1 130.7 200.3ZM131.7 210.2L134.6 217.0 137.6 216.2 134.7 209.4ZM135.9 219.3L138.8 226.2 141.7 225.4 138.8 218.6Z" fill="#d33cfa"/>
<path d="M166.1 197.0L167.7 203.0 167.7 202.9 166.1 196.9ZM166.0 196.9L167.6 202.9 169.1 202.5 167.5 196.5ZM168.6 206.7L170.2 212.7 170.4 212.5 168.8 206.5ZM168.6 206.6L170.2 212.6 171.9 212.1 170.3 206.1ZM171.1 216.3L172.7 222.3 173.2 222.1 171.6 216.1Z" fill="#6000b0"/>
<path d="M167.1 196.6L168.7 202.6 171.4 202.2 169.8 196.2ZM171.3 216.2L172.9 222.2 174.8 221.8 173.2 215.7Z" fill="#6501b5"/>
<path d="M169.2 196.3L170.8 202.3 174.2 202.1 172.6 196.1ZM172.1 205.9L173.7 211.9 177.2 211.8 175.6 205.7ZM175.1 215.5L176.7 221.5 180.2 221.4 178.6 215.4Z" fill="#7002c0"/>
<path d="M171.9 196.1L173.5 202.1 177.0 202.3 175.4 196.3Z" fill="#7602c6"/>
<path d="M174.8 196.2L176.4 202.2 179.2 203.1 177.6 197.1ZM177.7 205.9L179.3 212.0 182.1 212.9 180.5 206.9ZM180.7 215.7L182.3 221.7 184.9 222.7 183.3 216.7Z" fill="#8103d1"/>
<path d="M177.2 196.8L178.8 202.9 180.6 204.3 179.0 198.3ZM180.1 206.6L181.7 212.6 183.2 214.1 181.6 208.1ZM182.9 216.5L184.5 222.5 185.9 224.0 184.3 218.0Z" fill="#8604d6"/>
<path d="M169.9 206.2L171.5 212.2 174.3 211.8 172.7 205.8ZM172.7 215.8L174.3 221.8 177.3 221.5 175.7 215.5Z" fill="#6b01bb"/>
<path d="M174.9 205.7L176.5 211.7 179.9 212.1 178.3 206.1ZM177.9 215.4L179.5 221.4 182.9 221.8 181.3 215.8Z" fill="#7b03cb"/>
<path d="M171.8 194.0L173.7 201.2 170.7 202.7 168.8 195.5Z" fill="#c430f7"/>
<path d="M169.3 195.3L171.2 202.4 168.7 203.4 166.8 196.2ZM171.5 205.1L173.4 212.2 171.1 213.1 169.2 205.9ZM173.8 214.9L175.7 222.1 173.5 222.8 171.6 215.7Z" fill="#e148fc"/>
<path d="M167.2 196.1L169.1 203.2 167.7 203.6 165.8 196.5ZM169.5 205.8L171.4 213.0 170.2 213.3 168.3 206.1ZM171.9 215.6L173.8 222.7 172.8 222.9 170.9 215.8Z" fill="#f054ff"/>
<path d="M178.6 197.4L180.5 204.5 180.8 206.4 178.9 199.2ZM179.0 198.9L180.9 206.0 179.8 208.1 177.9 201.0ZM181.3 207.2L183.2 214.4 183.3 216.3 181.4 209.2ZM184.0 217.1L185.9 224.3 185.8 226.2 183.9 219.1Z" fill="#8a00ec"/>
<path d="M178.2 200.6L180.1 207.7 177.8 209.9 175.9 202.7ZM181.5 208.8L183.4 215.9 182.1 218.1 180.2 210.9ZM184.0 218.7L185.9 225.8 184.4 228.0 182.5 220.9Z" fill="#990cef"/>
<path d="M176.4 202.3L178.3 209.5 175.3 211.4 173.4 204.2ZM178.6 212.2L180.5 219.4 177.5 221.2 175.6 214.1ZM180.9 222.2L182.8 229.3 179.7 231.1 177.8 223.9Z" fill="#b624f4"/>
<path d="M174.0 203.9L175.9 211.0 172.9 212.5 171.0 205.3ZM176.2 213.8L178.1 220.9 175.2 222.3 173.3 215.1ZM178.4 223.6L180.3 230.8 177.4 232.0 175.5 224.9Z" fill="#d33cfa"/>
<path d="M180.6 210.5L182.5 217.7 180.0 219.8 178.1 212.6ZM182.9 220.4L184.8 227.6 182.2 229.7 180.3 222.5Z" fill="#a718f1"/>
<path d="M201.2 160.0L202.6 164.5 202.8 164.2 201.4 159.8ZM203.9 169.0L205.3 173.4 205.7 173.2 204.3 168.7ZM206.7 177.9L208.1 182.4 208.7 182.1 207.3 177.6ZM209.5 186.9L210.9 191.3 211.7 191.0 210.3 186.5ZM212.3 195.8L213.7 200.3 214.7 199.9 213.3 195.4ZM215.3 204.8L216.7 209.3 216.7 209.2 215.3 204.7ZM215.2 204.7L216.6 209.2 217.8 208.8 216.3 204.3Z" fill="#3c3c3c"/>
<path d="M201.3 159.8L202.7 164.3 204.0 163.9 202.6 159.4ZM204.2 168.7L205.6 173.2 207.0 172.8 205.6 168.3ZM207.1 177.7L208.5 182.1 210.1 181.7 208.7 177.2ZM210.1 186.6L211.5 191.1 213.2 190.6 211.8 186.2ZM213.0 195.5L214.4 200.0 216.4 199.6 215.0 195.1ZM216.0 204.4L217.4 208.9 219.5 208.5 218.1 204.0Z" fill="#424242"/>
<path d="M202.2 159.5L203.6 164.0 205.8 163.6 204.4 159.1ZM205.3 168.4L206.7 172.9 209.0 172.6 207.6 168.1ZM208.3 177.3L209.7 181.8 212.1 181.5 210.7 177.0ZM211.4 186.2L212.8 190.7 215.3 190.5 213.9 186.0Z" fill="#494949"/>
<path d="M203.9 159.2L205.3 163.7 208.0 163.6 206.6 159.1ZM207.1 168.1L208.5 172.6 211.2 172.6 209.8 168.1ZM214.5 195.1L215.9 199.6 218.5 199.5 217.1 195.0ZM217.6 204.1L219.1 208.6 221.7 208.4 220.3 204.0Z" fill="#4f4f4f"/>
<path d="M206.1 159.1L207.5 163.6 210.1 164.0 208.7 159.5ZM209.3 168.1L210.7 172.6 213.3 173.1 211.9 168.6ZM212.4 177.1L213.9 181.6 216.4 182.2 215.0 177.7ZM215.6 186.1L217.0 190.6 219.5 191.3 218.1 186.8Z" fill="#5b5b5b"/>
<path d="M208.3 159.4L209.7 163.9 211.8 164.8 210.4 160.3ZM211.4 168.4L212.8 172.9 214.9 174.0 213.5 169.5ZM214.6 177.5L216.0 182.0 217.9 183.1 216.5 178.7ZM218.8 195.1L220.2 199.6 222.6 200.4 221.2 195.9Z" fill="#626262"/>
<path d="M210.1 160.1L211.5 164.6 212.8 166.1 211.4 161.6ZM213.2 169.2L214.6 173.7 215.7 175.3 214.3 170.8ZM216.2 178.4L217.6 182.9 218.5 184.5 217.1 180.0ZM217.7 186.6L219.1 191.1 220.8 192.3 219.4 187.8ZM219.2 187.6L220.6 192.0 221.3 193.7 219.9 189.3ZM220.8 195.7L222.2 200.2 223.8 201.5 222.4 197.0ZM222.2 196.7L223.6 201.2 224.1 203.0 222.7 198.5Z" fill="#686868"/>
<path d="M210.2 177.0L211.6 181.5 214.4 181.6 213.0 177.1ZM213.4 186.0L214.8 190.5 217.5 190.7 216.1 186.2ZM216.6 195.0L218.0 199.4 220.7 199.7 219.3 195.2Z" fill="#555555"/>
<path d="M201.8 159.4L203.5 164.7 202.7 164.9 201.0 159.6ZM204.5 168.4L206.1 173.8 205.4 173.9 203.8 168.5ZM207.1 177.4L208.8 182.8 208.3 182.8 206.6 177.4ZM209.8 186.4L211.4 191.8 211.1 191.7 209.4 186.4ZM213.5 195.1L215.1 200.5 214.0 200.8 212.3 195.5ZM212.4 195.4L214.1 200.8 214.0 200.7 212.3 195.3ZM216.1 204.2L217.7 209.5 216.7 209.8 215.0 204.4Z" fill="#cdcdcd"/>
<path d="M211.1 160.8L212.8 166.2 213.0 168.0 211.3 162.7ZM214.0 170.0L215.7 175.4 215.7 177.3 214.0 171.9ZM216.9 179.2L218.6 184.6 218.4 186.5 216.7 181.2ZM219.8 188.5L221.4 193.8 221.1 195.8 219.4 190.4ZM222.6 197.7L224.3 203.0 223.7 205.0 222.0 199.7Z" fill="#8e8e8e"/>
<path d="M211.4 162.3L213.0 167.7 212.1 169.7 210.5 164.4ZM214.1 171.6L215.8 176.9 214.7 178.9 213.1 173.6ZM216.8 180.8L218.5 186.2 217.3 188.2 215.6 182.8ZM219.6 190.1L221.2 195.4 219.9 197.4 218.2 192.1ZM222.2 199.3L223.9 204.7 222.4 206.7 220.7 201.3Z" fill="#979797"/>
<path d="M210.7 164.0L212.4 169.3 210.7 171.3 209.0 165.9ZM213.3 173.2L215.0 178.6 213.2 180.5 211.5 175.1ZM215.9 182.5L217.6 187.8 215.7 189.7 214.0 184.3Z" fill="#a0a0a0"/>
<path d="M209.4 165.6L211.0 170.9 208.9 172.5 207.2 167.2ZM218.5 191.7L220.2 197.1 218.2 198.9 216.5 193.5ZM221.1 200.9L222.8 206.3 220.7 208.0 219.0 202.7Z" fill="#a9a9a9"/>
<path d="M207.6 166.9L209.3 172.3 207.1 173.4 205.5 168.1ZM210.1 176.1L211.8 181.4 209.7 182.5 208.0 177.1ZM212.6 185.2L214.3 190.6 212.3 191.5 210.6 186.2Z" fill="#bbbbbb"/>
<path d="M205.8 167.9L207.5 173.2 205.9 173.8 204.2 168.5ZM208.4 177.0L210.0 182.3 208.6 182.8 206.9 177.5ZM210.9 186.1L212.6 191.4 211.3 191.8 209.6 186.5ZM215.1 194.4L216.8 199.7 214.9 200.6 213.2 195.3ZM217.6 203.5L219.3 208.9 217.5 209.6 215.8 204.3Z" fill="#c4c4c4"/>
<path d="M211.9 174.8L213.6 180.1 211.4 181.7 209.7 176.3ZM214.4 184.0L216.1 189.3 213.9 190.8 212.2 185.5ZM216.9 193.2L218.6 198.6 216.4 199.9 214.7 194.6ZM219.4 202.4L221.1 207.7 218.9 209.1 217.2 203.7Z" fill="#b2b2b2"/>
<path d="M154.9 227.3L159.3 224.8 158.7 224.1 154.3 226.5ZM163.1 222.6L167.6 220.2 167.4 220.2 162.9 222.6ZM163.0 222.7L167.4 220.3 166.8 219.1 162.3 221.5ZM171.4 218.2L175.8 215.8 175.4 215.4 171.0 217.8Z" fill="#3c3c3c"/>
<path d="M154.4 226.7L158.9 224.3 158.0 222.5 153.6 224.9ZM171.1 218.0L175.5 215.6 174.8 214.0 170.3 216.4Z" fill="#424242"/>
<path d="M153.8 225.3L158.2 222.9 157.4 220.3 153.0 222.7ZM162.5 221.8L166.9 219.4 166.0 217.2 161.6 219.7ZM170.5 216.8L174.9 214.4 174.1 212.0 169.6 214.4Z" fill="#494949"/>
<path d="M153.1 223.2L157.5 220.8 157.1 217.9 152.6 220.3ZM169.8 214.9L174.2 212.5 173.6 209.6 169.2 212.0Z" fill="#555555"/>
<path d="M152.7 220.8L157.1 218.4 157.2 215.7 152.8 218.1ZM160.9 215.5L165.3 213.1 165.7 210.6 161.3 213.0ZM169.2 210.2L173.6 207.8 174.3 205.5 169.8 207.9Z" fill="#626262"/>
<path d="M152.7 218.6L157.1 216.2 158.0 214.1 153.6 216.5ZM153.4 216.8L157.8 214.4 159.4 213.4 155.0 215.8ZM161.1 213.4L165.6 211.0 166.7 209.3 162.3 211.7ZM169.6 208.3L174.1 205.9 175.5 204.6 171.0 207.0Z" fill="#686868"/>
<path d="M161.8 220.1L166.2 217.7 165.5 214.9 161.0 217.3Z" fill="#4f4f4f"/>
<path d="M161.1 217.9L165.6 215.5 165.3 212.6 160.9 215.0ZM169.2 212.6L173.7 210.1 173.6 207.3 169.2 209.7Z" fill="#5b5b5b"/>
<path d="M152.4 224.2L157.7 221.4 159.2 223.3 153.9 226.2ZM168.5 214.7L173.8 211.9 175.4 213.9 170.2 216.8Z" fill="#bbbbbb"/>
<path d="M153.7 225.9L159.0 223.0 159.7 224.4 154.4 227.2ZM161.2 220.3L166.5 217.5 167.7 219.3 162.4 222.2ZM169.9 216.4L175.2 213.6 176.1 215.2 170.9 218.0Z" fill="#c4c4c4"/>
<path d="M154.4 227.1L159.6 224.2 159.7 224.6 154.4 227.4ZM162.3 221.9L167.5 219.0 168.0 220.1 162.7 222.9ZM170.7 217.8L176.0 215.0 176.2 215.6 171.0 218.5Z" fill="#cdcdcd"/>
<path d="M154.2 216.2L159.4 213.3 161.6 213.5 156.3 216.3ZM161.6 212.1L166.8 209.3 168.6 208.7 163.4 211.6ZM170.3 207.3L175.5 204.5 177.5 204.3 172.3 207.2Z" fill="#8e8e8e"/>
<path d="M155.9 216.2L161.1 213.3 163.5 214.5 158.2 217.4ZM163.0 211.6L168.3 208.7 170.5 209.3 165.2 212.1Z" fill="#979797"/>
<path d="M157.8 217.1L163.0 214.2 165.3 216.1 160.0 219.0ZM166.7 213.1L172.0 210.2 174.1 212.3 168.9 215.1Z" fill="#a9a9a9"/>
<path d="M159.6 218.6L164.9 215.7 166.8 217.9 161.5 220.7Z" fill="#b2b2b2"/>
<path d="M164.8 211.9L170.1 209.1 172.4 210.6 167.2 213.4Z" fill="#a0a0a0"/>
<path d="M196.7 223.3L201.5 225.0 201.6 224.2 196.8 222.6ZM205.2 226.3L209.9 228.0 210.1 227.2 205.3 225.5Z" fill="#3c3c3c"/>
<path d="M196.8 222.8L201.5 224.5 202.2 222.8 197.4 221.1ZM205.2 225.8L210.0 227.4 210.7 225.7 205.9 224.1Z" fill="#424242"/>
<path d="M197.2 221.5L202.0 223.2 203.2 221.0 198.5 219.3ZM205.7 224.4L210.5 226.1 211.7 223.9 207.0 222.3Z" fill="#494949"/>
<path d="M198.2 219.7L202.9 221.4 204.7 219.2 199.9 217.5ZM206.7 222.7L211.5 224.4 213.2 222.2 208.4 220.5Z" fill="#555555"/>
<path d="M199.5 217.9L204.3 219.6 206.3 217.8 201.5 216.2ZM208.1 220.9L212.8 222.5 214.8 220.8 210.1 219.1Z" fill="#5b5b5b"/>
<path d="M201.1 216.4L205.9 218.1 207.9 217.2 203.2 215.6ZM209.7 219.4L214.4 221.1 216.4 220.2 211.7 218.6Z" fill="#626262"/>
<path d="M202.8 215.6L207.5 217.3 209.4 217.5 204.6 215.9ZM211.3 218.6L216.1 220.3 217.9 220.6 213.1 218.9Z" fill="#686868"/>
<path d="M197.4 219.7L203.0 221.7 202.5 224.0 196.9 222.0ZM205.8 222.7L211.5 224.7 211.0 227.0 205.4 225.0Z" fill="#bbbbbb"/>
<path d="M197.0 221.6L202.6 223.6 202.1 225.0 196.5 223.0ZM205.5 224.6L211.1 226.6 210.6 228.0 204.9 226.0Z" fill="#c4c4c4"/>
<path d="M196.5 222.8L202.2 224.8 201.9 225.1 196.2 223.1ZM205.0 225.8L210.7 227.8 210.4 228.1 204.7 226.1Z" fill="#cdcdcd"/>
<path d="M203.8 215.6L209.5 217.6 210.9 218.9 205.2 216.9ZM212.4 218.6L218.0 220.6 219.4 221.9 213.7 219.9Z" fill="#8e8e8e"/>
<path d="M205.0 216.5L210.7 218.5 211.5 220.8 205.8 218.8ZM213.5 219.6L219.2 221.6 220.0 223.8 214.3 221.8Z" fill="#979797"/>
<path d="M205.7 218.3L211.4 220.3 211.7 223.0 206.0 221.0ZM214.2 221.3L219.9 223.3 220.1 226.1 214.5 224.1Z" fill="#a0a0a0"/>
<path d="M206.0 220.5L211.6 222.5 211.4 225.2 205.8 223.2ZM214.5 223.5L220.1 225.5 219.9 228.3 214.3 226.3Z" fill="#b2b2b2"/>
<path d="M209.0 196.6L210.7 201.0 212.1 200.5 210.4 196.1ZM212.5 205.3L214.2 209.7 215.8 209.2 214.1 204.8ZM216.0 214.0L217.7 218.4 219.4 217.9 217.7 213.5Z" fill="#424242"/>
<path d="M210.1 196.2L211.8 200.6 214.0 200.2 212.3 195.8ZM213.7 204.9L215.4 209.3 217.7 208.9 216.0 204.5ZM217.3 213.6L219.0 218.0 221.4 217.6 219.7 213.3Z" fill="#494949"/>
<path d="M211.8 195.8L213.5 200.2 216.1 200.1 214.4 195.7Z" fill="#4f4f4f"/>
<path d="M213.9 195.7L215.6 200.1 218.1 200.5 216.4 196.1ZM217.6 204.5L219.3 208.9 221.8 209.4 220.1 205.0ZM221.4 213.3L223.1 217.7 225.5 218.2 223.8 213.9Z" fill="#5b5b5b"/>
<path d="M216.0 195.9L217.7 200.3 219.7 201.3 218.0 196.9ZM219.7 204.8L221.4 209.2 223.3 210.3 221.6 205.9Z" fill="#626262"/>
<path d="M217.7 196.7L219.4 201.1 220.5 202.6 218.8 198.2ZM221.3 205.6L223.0 210.0 224.0 211.6 222.3 207.2ZM223.4 213.7L225.1 218.1 226.8 219.2 225.1 214.8ZM224.9 214.6L226.6 219.0 227.4 220.6 225.7 216.2Z" fill="#686868"/>
<path d="M212.1 205.6L213.8 210.0 214.4 209.6 212.7 205.2ZM215.5 214.3L217.2 218.7 218.0 218.3 216.3 213.9Z" fill="#3c3c3c"/>
<path d="M215.5 204.5L217.2 208.9 219.8 208.9 218.1 204.5ZM219.2 213.3L220.9 217.7 223.5 217.7 221.9 213.3Z" fill="#555555"/>
<path d="M218.6 197.4L220.6 202.7 220.7 204.6 218.7 199.4ZM222.0 206.5L224.0 211.7 224.0 213.6 222.0 208.4ZM225.5 215.5L227.5 220.7 227.2 222.7 225.2 217.5Z" fill="#8e8e8e"/>
<path d="M218.7 199.0L220.8 204.2 219.9 206.3 217.9 201.0ZM222.1 208.0L224.1 213.2 223.0 215.3 221.0 210.1ZM225.4 217.1L227.4 222.3 226.2 224.4 224.2 219.1Z" fill="#979797"/>
<path d="M218.1 200.7L220.1 205.9 218.5 207.9 216.5 202.6ZM221.3 209.7L223.3 214.9 221.6 216.9 219.6 211.6Z" fill="#a0a0a0"/>
<path d="M216.8 202.3L218.8 207.5 216.8 209.1 214.8 203.9ZM219.9 211.3L221.9 216.5 219.9 218.1 217.9 212.9ZM223.0 220.3L225.1 225.5 223.0 227.0 221.0 221.8Z" fill="#b2b2b2"/>
<path d="M215.2 203.6L217.2 208.9 215.3 210.0 213.3 204.8ZM218.3 212.6L220.3 217.8 218.5 218.9 216.5 213.6Z" fill="#bbbbbb"/>
<path d="M213.6 204.6L215.6 209.8 214.3 210.4 212.3 205.2ZM216.8 213.5L218.8 218.7 217.6 219.2 215.5 214.0ZM221.4 221.6L223.4 226.8 221.6 227.7 219.6 222.5Z" fill="#c4c4c4"/>
<path d="M212.4 205.1L214.5 210.3 214.0 210.4 212.0 205.1ZM215.7 213.9L217.7 219.1 217.4 219.1 215.4 213.9ZM219.9 222.4L221.9 227.6 220.8 228.0 218.8 222.7ZM219.0 222.7L221.0 227.9 220.8 227.8 218.8 222.6Z" fill="#cdcdcd"/>
<path d="M224.5 218.7L226.5 224.0 224.7 225.9 222.7 220.6Z" fill="#a9a9a9"/>
<path d="M214 214.6 C219 216 222 217.6 224.2 219.7 S228 223.5 228.3 226.2 S228 231.6 227.5 234.4 S226 238.6 225 240.5" fill="none" stroke="#6a00a8" stroke-width="2.8" stroke-linecap="round"/>
<path d="M227.6 220.4 C229.5 218 231.5 215.8 234 214 L237 212" fill="none" stroke="#9a18dc" stroke-width="3.2" stroke-linecap="round"/>
<path d="M206.8 148.2 L215.6 159.9 L208.2 162.2 L206.3 154 Z" fill="#c44ad6"/>
<path d="M163 160 L176 159 L177 165 L160 166 Z" fill="#d23af0"/>
<path d="M135 171 L140 172.5 L139 178 L134 176 Z" fill="#666"/>
<g opacity="0.5"><path d="M62 165.8 L102.5 147.3 L284 147.3 L244 165.8 Z" fill="url(#band)"/><path d="M62 248.6 L102.5 230 L285 230 L244 248.6 Z" fill="url(#bandb)"/></g>
<g style="mix-blend-mode:multiply">
<path d="M62 165.8 L102.5 147.3 L284 147.3 L244 165.8 Z" fill="url(#band2)"/>
<path d="M62 248.6 L102.5 230 L285 230 L244 248.6 Z" fill="url(#bandb2)"/>
</g>
<circle cx="98.75" cy="225" r="8" fill="url(#sph)"/>
<circle cx="82.5" cy="230.4" r="8" fill="url(#sph)"/>
<circle cx="94" cy="231.2" r="8" fill="url(#sph)"/>
<circle cx="265.8" cy="221.5" r="7.5" fill="url(#sph)"/>
<path d="M69.4 232.5Q69.6 220.0 68.0 217.0T66.5 207.5M70.8 232.5Q71.8 220.0 73.0 217.0T74.3 207.5M84.9 232.5Q86.2 220.0 84.1 217.0T82.3 207.5M86.7 232.5Q86.9 220.0 88.2 217.0T89.4 207.5M101.1 232.5Q101.6 220.0 100.1 217.0T98.7 207.5M102.5 232.5Q102.1 220.0 103.5 217.0T104.8 207.5M81.3 223.0Q81.8 215.2 80.4 213.4T79.1 207.5M83.6 223.0Q82.8 215.2 84.2 213.4T85.5 207.5M92.6 223.5Q93.1 215.5 91.8 213.6T90.6 207.5M95.2 223.5Q94.5 215.5 95.9 213.6T97.1 207.5M98.3 217.5Q99.0 212.5 96.6 211.3T94.3 207.5M99.3 217.5Q97.7 212.5 100.5 211.3T103.1 207.5M251.9 227.0Q250.4 215.5 250.1 212.7T249.5 204.0M253.9 227.0Q253.1 215.5 254.3 212.7T255.3 204.0M263.4 220.5Q263.1 209.0 262.2 206.2T261.2 197.5M265.9 220.5Q264.6 209.0 266.1 206.2T267.2 197.5M275.7 215.0Q275.0 203.5 274.4 200.7T273.5 192.0M278.3 215.0Q279.0 203.5 279.4 200.7T280.0 192.0M257.2 222.0Q258.2 210.5 256.6 207.7T255.2 199.0M258.7 222.0Q259.9 210.5 260.5 207.7T261.2 199.0M270.1 216.0Q271.2 204.5 269.6 201.7T268.1 193.0M272.3 216.0Q271.9 204.5 273.3 201.7T274.6 193.0" fill="none" stroke="#ffc41c" stroke-width="1.7" stroke-linecap="round"/>
<circle cx="70.2" cy="240" r="8" fill="url(#sph)"/>
<circle cx="85.8" cy="240" r="8" fill="url(#sph)"/>
<circle cx="102" cy="240" r="8" fill="url(#sph)"/>
<circle cx="68.6" cy="173.7" r="8" fill="url(#sph)"/>
<circle cx="84.8" cy="173.7" r="8" fill="url(#sph)"/>
<circle cx="101" cy="173.7" r="8" fill="url(#sph)"/>
<circle cx="252" cy="167.5" r="8" fill="url(#sph)"/>
<circle cx="263.75" cy="162.5" r="8" fill="url(#sph)"/>
<circle cx="276.25" cy="157" r="8" fill="url(#sph)"/>
<circle cx="277" cy="222.4" r="8" fill="url(#sph)"/>
<circle cx="264.8" cy="228" r="8" fill="url(#sph)"/>
<circle cx="252.8" cy="234.4" r="8" fill="url(#sph)"/>
<text x="52" y="68" font-size="10.2" fill="#000">C</text>
<text x="147.3" y="139.6" font-size="10.2" fill="#000">N</text>
<text x="198.2" y="126" font-size="10.2" fill="#000">cytosol</text>
<text x="227" y="143.8" font-size="10.3" fill="#ff9a1c">membrane</text>
<text x="184.5" y="279.8" font-size="10.4" fill="#000">Golgi lumen</text>
<text x="104.8" y="213.2" font-size="9.8" fill="#9a10c8">TM</text>
</g>
<g id="micro">
<defs><filter id="bl" x="-50%" y="-50%" width="200%" height="200%"><feGaussianBlur stdDeviation="0.8"/></filter></defs>
<rect x="8.7" y="301.0" width="94.1" height="94.0" fill="#000"/>
<rect x="106.9" y="301.0" width="94.1" height="94.0" fill="#000"/>
<rect x="205.2" y="301.0" width="94.1" height="94.0" fill="#000"/>
<g transform="translate(8.7 301.0)" filter="url(#bl)">
<ellipse cx="47.8" cy="34.3" rx="3.24" ry="2.03" transform="rotate(-10 47.8 34.3)" fill="rgb(255,40,255)" opacity="1.00"/>
<ellipse cx="53.2" cy="50.1" rx="2.03" ry="2.70" transform="rotate(10 53.2 50.1)" fill="rgb(255,40,255)" opacity="1.00"/>
<ellipse cx="28.9" cy="53.2" rx="2.29" ry="2.29" transform="rotate(0 28.9 53.2)" fill="rgb(255,40,255)" opacity="1.00"/>
<ellipse cx="60.8" cy="53.2" rx="3.10" ry="1.35" transform="rotate(15 60.8 53.2)" fill="rgb(243,38,243)" opacity="1.00"/>
<ellipse cx="44.2" cy="59.6" rx="4.05" ry="1.62" transform="rotate(-35 44.2 59.6)" fill="rgb(232,36,232)" opacity="1.00"/>
<ellipse cx="53.2" cy="74.5" rx="2.03" ry="2.16" transform="rotate(0 53.2 74.5)" fill="rgb(221,34,221)" opacity="0.95"/>
<ellipse cx="34.8" cy="25.3" rx="3.51" ry="2.03" transform="rotate(-30 34.8 25.3)" fill="rgb(232,36,232)" opacity="1.00"/>
<ellipse cx="28.9" cy="28.9" rx="3.24" ry="2.16" transform="rotate(35 28.9 28.9)" fill="rgb(198,30,198)" opacity="0.85"/>
<ellipse cx="32.4" cy="32.4" rx="2.70" ry="1.76" transform="rotate(10 32.4 32.4)" fill="rgb(187,28,187)" opacity="0.80"/>
<ellipse cx="34.8" cy="70.2" rx="2.70" ry="1.76" transform="rotate(-20 34.8 70.2)" fill="rgb(187,28,187)" opacity="0.80"/>
<ellipse cx="44.2" cy="43" rx="1.35" ry="1.35" transform="rotate(0 44.2 43)" fill="rgb(210,32,210)" opacity="0.90"/>
<ellipse cx="56" cy="43" rx="1.35" ry="1.49" transform="rotate(0 56 43)" fill="rgb(210,32,210)" opacity="0.90"/>
<ellipse cx="63.1" cy="44.2" rx="1.35" ry="1.35" transform="rotate(0 63.1 44.2)" fill="rgb(198,30,198)" opacity="0.85"/>
<ellipse cx="50.1" cy="27.7" rx="1.35" ry="1.35" transform="rotate(0 50.1 27.7)" fill="rgb(187,28,187)" opacity="0.80"/>
<ellipse cx="41.8" cy="34.8" rx="1.35" ry="1.22" transform="rotate(0 41.8 34.8)" fill="rgb(187,28,187)" opacity="0.80"/>
<ellipse cx="22.9" cy="41.8" rx="2.03" ry="1.76" transform="rotate(0 22.9 41.8)" fill="rgb(153,22,153)" opacity="0.65"/>
<ellipse cx="17" cy="45.4" rx="1.62" ry="2.97" transform="rotate(15 17 45.4)" fill="rgb(142,20,142)" opacity="0.60"/>
<ellipse cx="15.8" cy="50.1" rx="1.62" ry="2.16" transform="rotate(0 15.8 50.1)" fill="rgb(142,20,142)" opacity="0.60"/>
<ellipse cx="21.8" cy="63.1" rx="1.76" ry="3.24" transform="rotate(-30 21.8 63.1)" fill="rgb(153,22,153)" opacity="0.65"/>
<ellipse cx="27.7" cy="67.9" rx="2.43" ry="1.76" transform="rotate(30 27.7 67.9)" fill="rgb(165,24,165)" opacity="0.70"/>
<ellipse cx="43" cy="80.9" rx="2.43" ry="1.35" transform="rotate(0 43 80.9)" fill="rgb(131,18,131)" opacity="0.55"/>
<ellipse cx="58.4" cy="69" rx="2.43" ry="1.62" transform="rotate(-20 58.4 69)" fill="rgb(165,24,165)" opacity="0.70"/>
<ellipse cx="65.5" cy="62" rx="2.70" ry="1.62" transform="rotate(-30 65.5 62)" fill="rgb(176,26,176)" opacity="0.75"/>
<ellipse cx="69" cy="54.9" rx="2.16" ry="1.76" transform="rotate(0 69 54.9)" fill="rgb(187,28,187)" opacity="0.80"/>
<ellipse cx="75" cy="59.6" rx="1.62" ry="2.97" transform="rotate(25 75 59.6)" fill="rgb(142,20,142)" opacity="0.60"/>
<ellipse cx="80.9" cy="50.1" rx="1.62" ry="2.43" transform="rotate(0 80.9 50.1)" fill="rgb(142,20,142)" opacity="0.60"/>
<ellipse cx="82" cy="43" rx="1.62" ry="2.97" transform="rotate(10 82 43)" fill="rgb(142,20,142)" opacity="0.60"/>
<ellipse cx="72.6" cy="34.8" rx="1.76" ry="2.70" transform="rotate(0 72.6 34.8)" fill="rgb(153,22,153)" opacity="0.65"/>
<ellipse cx="69" cy="28.9" rx="2.03" ry="3.24" transform="rotate(-25 69 28.9)" fill="rgb(165,24,165)" opacity="0.70"/>
<ellipse cx="65.5" cy="22.9" rx="2.70" ry="1.62" transform="rotate(25 65.5 22.9)" fill="rgb(153,22,153)" opacity="0.65"/>
<ellipse cx="58.4" cy="20.6" rx="2.43" ry="1.35" transform="rotate(15 58.4 20.6)" fill="rgb(131,18,131)" opacity="0.55"/>
<ellipse cx="70.2" cy="25.3" rx="1.62" ry="1.62" transform="rotate(0 70.2 25.3)" fill="rgb(142,20,142)" opacity="0.60"/>
<ellipse cx="39.5" cy="62" rx="2.16" ry="1.35" transform="rotate(-20 39.5 62)" fill="rgb(176,26,176)" opacity="0.75"/>
<ellipse cx="57.2" cy="56" rx="1.35" ry="1.35" transform="rotate(0 57.2 56)" fill="rgb(187,28,187)" opacity="0.80"/>
<ellipse cx="62" cy="71.4" rx="2.03" ry="1.35" transform="rotate(-20 62 71.4)" fill="rgb(131,18,131)" opacity="0.55"/>
<ellipse cx="77.3" cy="46.6" rx="1.35" ry="1.62" transform="rotate(0 77.3 46.6)" fill="rgb(131,18,131)" opacity="0.55"/>
<ellipse cx="25.3" cy="59.6" rx="1.62" ry="1.62" transform="rotate(0 25.3 59.6)" fill="rgb(131,18,131)" opacity="0.55"/>
<ellipse cx="46.6" cy="53.7" rx="1.35" ry="1.22" transform="rotate(0 46.6 53.7)" fill="rgb(142,20,142)" opacity="0.60"/>
<ellipse cx="26" cy="25" rx="2.16" ry="1.76" transform="rotate(0 26 25)" fill="rgb(153,22,153)" opacity="0.65"/>
<ellipse cx="38" cy="29" rx="1.76" ry="1.35" transform="rotate(0 38 29)" fill="rgb(165,24,165)" opacity="0.70"/>
<ellipse cx="48.5" cy="66" rx="1.76" ry="1.22" transform="rotate(0 48.5 66)" fill="rgb(153,22,153)" opacity="0.65"/>
<ellipse cx="72" cy="67" rx="1.62" ry="2.16" transform="rotate(20 72 67)" fill="rgb(131,18,131)" opacity="0.55"/>
<ellipse cx="30" cy="74" rx="1.62" ry="1.62" transform="rotate(0 30 74)" fill="rgb(131,18,131)" opacity="0.55"/>
<ellipse cx="20.5" cy="35" rx="1.89" ry="1.62" transform="rotate(0 20.5 35)" fill="rgb(131,18,131)" opacity="0.55"/>
<ellipse cx="56" cy="83" rx="1.76" ry="1.22" transform="rotate(0 56 83)" fill="rgb(120,16,120)" opacity="0.50"/>
<ellipse cx="37" cy="81" rx="1.49" ry="1.22" transform="rotate(0 37 81)" fill="rgb(108,14,108)" opacity="0.45"/>
<ellipse cx="76.5" cy="39" rx="1.35" ry="1.89" transform="rotate(0 76.5 39)" fill="rgb(131,18,131)" opacity="0.55"/>
<ellipse cx="50.5" cy="40.5" rx="1.22" ry="1.22" transform="rotate(0 50.5 40.5)" fill="rgb(142,20,142)" opacity="0.60"/>
<ellipse cx="62.5" cy="36" rx="1.35" ry="1.35" transform="rotate(0 62.5 36)" fill="rgb(131,18,131)" opacity="0.55"/>
<ellipse cx="35" cy="47" rx="1.22" ry="1.22" transform="rotate(0 35 47)" fill="rgb(142,20,142)" opacity="0.60"/>
<ellipse cx="66" cy="49" rx="1.08" ry="1.08" transform="rotate(0 66 49)" fill="rgb(142,20,142)" opacity="0.60"/>
<ellipse cx="40" cy="52" rx="1.08" ry="1.08" transform="rotate(0 40 52)" fill="rgb(142,20,142)" opacity="0.60"/>
<ellipse cx="54" cy="62" rx="1.22" ry="1.08" transform="rotate(0 54 62)" fill="rgb(142,20,142)" opacity="0.60"/>
<ellipse cx="24" cy="48" rx="1.35" ry="1.35" transform="rotate(0 24 48)" fill="rgb(120,16,120)" opacity="0.50"/>
<ellipse cx="37.2" cy="72.3" rx="1.35" ry="1.22" transform="rotate(197 37.2 72.3)" fill="rgb(102,12,102)" opacity="0.42"/>
<ellipse cx="58.2" cy="52.1" rx="2.03" ry="1.49" transform="rotate(77 58.2 52.1)" fill="rgb(113,14,113)" opacity="0.47"/>
<ellipse cx="79.9" cy="40.0" rx="2.97" ry="0.81" transform="rotate(456 79.9 40.0)" fill="rgb(117,15,117)" opacity="0.49"/>
<ellipse cx="70.1" cy="68.3" rx="1.49" ry="1.22" transform="rotate(142 70.1 68.3)" fill="rgb(124,16,124)" opacity="0.52"/>
<ellipse cx="66.4" cy="56.9" rx="2.03" ry="1.08" transform="rotate(118 66.4 56.9)" fill="rgb(131,18,131)" opacity="0.55"/>
<ellipse cx="53.7" cy="34.3" rx="2.16" ry="1.49" transform="rotate(392 53.7 34.3)" fill="rgb(117,15,117)" opacity="0.49"/>
<ellipse cx="71.3" cy="69.4" rx="1.49" ry="1.22" transform="rotate(100 71.3 69.4)" fill="rgb(144,20,144)" opacity="0.61"/>
<ellipse cx="15.7" cy="34.4" rx="2.43" ry="1.35" transform="rotate(301 15.7 34.4)" fill="rgb(131,18,131)" opacity="0.55"/>
<ellipse cx="78.3" cy="39.9" rx="1.35" ry="1.35" transform="rotate(440 78.3 39.9)" fill="rgb(169,24,169)" opacity="0.72"/>
<ellipse cx="42.6" cy="77.6" rx="1.22" ry="1.22" transform="rotate(169 42.6 77.6)" fill="rgb(106,13,106)" opacity="0.44"/>
<ellipse cx="50.6" cy="36.5" rx="2.70" ry="0.81" transform="rotate(363 50.6 36.5)" fill="rgb(138,19,138)" opacity="0.58"/>
<ellipse cx="64.6" cy="18.2" rx="1.89" ry="1.08" transform="rotate(411 64.6 18.2)" fill="rgb(167,24,167)" opacity="0.71"/>
<ellipse cx="56.0" cy="63.4" rx="2.29" ry="1.08" transform="rotate(118 56.0 63.4)" fill="rgb(126,17,126)" opacity="0.53"/>
<ellipse cx="14.0" cy="35.3" rx="2.16" ry="1.35" transform="rotate(306 14.0 35.3)" fill="rgb(102,12,102)" opacity="0.42"/>
<ellipse cx="55.9" cy="15.4" rx="1.89" ry="1.08" transform="rotate(343 55.9 15.4)" fill="rgb(142,20,142)" opacity="0.60"/>
<ellipse cx="61.3" cy="55.2" rx="1.35" ry="0.81" transform="rotate(89 61.3 55.2)" fill="rgb(104,13,104)" opacity="0.43"/>
<ellipse cx="85.6" cy="55.6" rx="1.49" ry="1.08" transform="rotate(88 85.6 55.6)" fill="rgb(124,16,124)" opacity="0.52"/>
<ellipse cx="71.7" cy="20.0" rx="2.03" ry="0.94" transform="rotate(367 71.7 20.0)" fill="rgb(122,16,122)" opacity="0.51"/>
<ellipse cx="60.0" cy="30.6" rx="2.16" ry="0.94" transform="rotate(391 60.0 30.6)" fill="rgb(99,12,99)" opacity="0.41"/>
<ellipse cx="85.6" cy="45.3" rx="1.62" ry="1.08" transform="rotate(418 85.6 45.3)" fill="rgb(153,22,153)" opacity="0.65"/>
<ellipse cx="52.8" cy="30.4" rx="2.97" ry="1.49" transform="rotate(391 52.8 30.4)" fill="rgb(156,22,156)" opacity="0.66"/>
<ellipse cx="53.6" cy="79.9" rx="1.22" ry="0.81" transform="rotate(156 53.6 79.9)" fill="rgb(115,15,115)" opacity="0.48"/>
<ellipse cx="78.6" cy="42.1" rx="2.97" ry="1.62" transform="rotate(424 78.6 42.1)" fill="rgb(113,14,113)" opacity="0.47"/>
<ellipse cx="57.9" cy="74.3" rx="2.84" ry="1.49" transform="rotate(159 57.9 74.3)" fill="rgb(144,20,144)" opacity="0.61"/>
<ellipse cx="78.2" cy="66.4" rx="2.56" ry="1.49" transform="rotate(118 78.2 66.4)" fill="rgb(111,14,111)" opacity="0.46"/>
<ellipse cx="31.2" cy="79.7" rx="1.89" ry="1.08" transform="rotate(240 31.2 79.7)" fill="rgb(149,21,149)" opacity="0.63"/>
<ellipse cx="67.3" cy="67.9" rx="2.56" ry="0.94" transform="rotate(158 67.3 67.9)" fill="rgb(167,24,167)" opacity="0.71"/>
<ellipse cx="44.1" cy="56.3" rx="2.97" ry="1.35" transform="rotate(218 44.1 56.3)" fill="rgb(165,24,165)" opacity="0.70"/>
<ellipse cx="57.3" cy="41.8" rx="1.76" ry="0.94" transform="rotate(409 57.3 41.8)" fill="rgb(115,15,115)" opacity="0.48"/>
<ellipse cx="74.6" cy="76.2" rx="2.03" ry="1.35" transform="rotate(165 74.6 76.2)" fill="rgb(126,17,126)" opacity="0.53"/>
<ellipse cx="17.0" cy="49.7" rx="1.22" ry="1.22" transform="rotate(248 17.0 49.7)" fill="rgb(97,12,97)" opacity="0.40"/>
<ellipse cx="63.6" cy="76.1" rx="2.16" ry="1.08" transform="rotate(153 63.6 76.1)" fill="rgb(138,19,138)" opacity="0.58"/>
<ellipse cx="58.8" cy="57.3" rx="2.56" ry="1.22" transform="rotate(132 58.8 57.3)" fill="rgb(151,21,151)" opacity="0.64"/>
<ellipse cx="17.9" cy="61.0" rx="2.16" ry="1.35" transform="rotate(246 17.9 61.0)" fill="rgb(135,18,135)" opacity="0.57"/>
<ellipse cx="81.2" cy="38.2" rx="2.84" ry="1.08" transform="rotate(433 81.2 38.2)" fill="rgb(165,24,165)" opacity="0.70"/>
<ellipse cx="65.8" cy="68.6" rx="1.35" ry="0.94" transform="rotate(109 65.8 68.6)" fill="rgb(144,20,144)" opacity="0.61"/>
<ellipse cx="70.0" cy="34.9" rx="2.43" ry="0.94" transform="rotate(439 70.0 34.9)" fill="rgb(167,24,167)" opacity="0.71"/>
<ellipse cx="77.6" cy="41.6" rx="2.97" ry="1.49" transform="rotate(409 77.6 41.6)" fill="rgb(129,17,129)" opacity="0.54"/>
<ellipse cx="34.7" cy="71.7" rx="2.43" ry="0.81" transform="rotate(215 34.7 71.7)" fill="rgb(129,17,129)" opacity="0.54"/>
<ellipse cx="32.7" cy="77.6" rx="1.35" ry="1.62" transform="rotate(229 32.7 77.6)" fill="rgb(167,24,167)" opacity="0.71"/>
<ellipse cx="46.6" cy="73.3" rx="1.76" ry="0.94" transform="rotate(180 46.6 73.3)" fill="rgb(162,23,162)" opacity="0.69"/>
<ellipse cx="47.6" cy="74.9" rx="2.16" ry="1.35" transform="rotate(154 47.6 74.9)" fill="rgb(102,12,102)" opacity="0.42"/>
<ellipse cx="26.6" cy="60.8" rx="2.29" ry="1.49" transform="rotate(213 26.6 60.8)" fill="rgb(158,22,158)" opacity="0.67"/>
<ellipse cx="69.0" cy="27.8" rx="2.16" ry="1.62" transform="rotate(384 69.0 27.8)" fill="rgb(106,13,106)" opacity="0.44"/>
<ellipse cx="49.6" cy="58.3" rx="1.62" ry="1.08" transform="rotate(162 49.6 58.3)" fill="rgb(151,21,151)" opacity="0.64"/>
<ellipse cx="22.3" cy="50.0" rx="1.22" ry="1.08" transform="rotate(236 22.3 50.0)" fill="rgb(149,21,149)" opacity="0.63"/>
<ellipse cx="60.6" cy="77.5" rx="1.35" ry="1.49" transform="rotate(153 60.6 77.5)" fill="rgb(133,18,133)" opacity="0.56"/>
<ellipse cx="24.3" cy="68.7" rx="2.97" ry="1.08" transform="rotate(254 24.3 68.7)" fill="rgb(149,21,149)" opacity="0.63"/>
<ellipse cx="40.7" cy="55.4" rx="1.35" ry="1.35" transform="rotate(218 40.7 55.4)" fill="rgb(108,14,108)" opacity="0.45"/>
<ellipse cx="69.1" cy="20.4" rx="1.76" ry="0.94" transform="rotate(378 69.1 20.4)" fill="rgb(131,18,131)" opacity="0.55"/>
<ellipse cx="22.7" cy="58.9" rx="2.97" ry="1.22" transform="rotate(232 22.7 58.9)" fill="rgb(167,24,167)" opacity="0.71"/>
<ellipse cx="34.1" cy="67.9" rx="2.03" ry="1.22" transform="rotate(197 34.1 67.9)" fill="rgb(133,18,133)" opacity="0.56"/>
<ellipse cx="46.7" cy="74.0" rx="1.35" ry="0.81" transform="rotate(171 46.7 74.0)" fill="rgb(113,14,113)" opacity="0.47"/>
<ellipse cx="14.3" cy="43.9" rx="2.43" ry="1.49" transform="rotate(272 14.3 43.9)" fill="rgb(120,16,120)" opacity="0.50"/>
<ellipse cx="69.6" cy="76.7" rx="1.35" ry="1.49" transform="rotate(171 69.6 76.7)" fill="rgb(142,20,142)" opacity="0.60"/>
<ellipse cx="58.9" cy="27.1" rx="2.16" ry="1.49" transform="rotate(403 58.9 27.1)" fill="rgb(156,22,156)" opacity="0.66"/>
<ellipse cx="75.8" cy="29.7" rx="1.62" ry="0.81" transform="rotate(385 75.8 29.7)" fill="rgb(124,16,124)" opacity="0.52"/>
<ellipse cx="65.6" cy="23.6" rx="2.29" ry="1.35" transform="rotate(390 65.6 23.6)" fill="rgb(97,12,97)" opacity="0.40"/>
<ellipse cx="48.7" cy="20.0" rx="2.43" ry="0.81" transform="rotate(375 48.7 20.0)" fill="rgb(115,15,115)" opacity="0.48"/>
<ellipse cx="47.1" cy="68.8" rx="2.97" ry="1.22" transform="rotate(177 47.1 68.8)" fill="rgb(131,18,131)" opacity="0.55"/>
<ellipse cx="52.5" cy="18.6" rx="1.35" ry="0.94" transform="rotate(348 52.5 18.6)" fill="rgb(151,21,151)" opacity="0.64"/>
<ellipse cx="37.8" cy="45.2" rx="2.43" ry="1.35" transform="rotate(306 37.8 45.2)" fill="rgb(117,15,117)" opacity="0.49"/>
<ellipse cx="27.2" cy="54.7" rx="1.62" ry="1.62" transform="rotate(287 27.2 54.7)" fill="rgb(99,12,99)" opacity="0.41"/>
<ellipse cx="65.4" cy="16.9" rx="1.62" ry="0.94" transform="rotate(416 65.4 16.9)" fill="rgb(113,14,113)" opacity="0.47"/>
<ellipse cx="69.0" cy="73.5" rx="1.49" ry="1.49" transform="rotate(141 69.0 73.5)" fill="rgb(160,23,160)" opacity="0.68"/>
<ellipse cx="53.4" cy="85.3" rx="1.22" ry="0.81" transform="rotate(172 53.4 85.3)" fill="rgb(129,17,129)" opacity="0.54"/>
<ellipse cx="67.5" cy="71.4" rx="2.70" ry="0.81" transform="rotate(158 67.5 71.4)" fill="rgb(158,22,158)" opacity="0.67"/>
<ellipse cx="80.1" cy="35.3" rx="1.76" ry="1.08" transform="rotate(416 80.1 35.3)" fill="rgb(169,24,169)" opacity="0.72"/>
<ellipse cx="29.5" cy="72.2" rx="1.35" ry="0.94" transform="rotate(243 29.5 72.2)" fill="rgb(117,15,117)" opacity="0.49"/>
<ellipse cx="49.1" cy="76.6" rx="1.49" ry="1.08" transform="rotate(211 49.1 76.6)" fill="rgb(160,23,160)" opacity="0.68"/>
</g>
<g transform="translate(106.9 301.0)" filter="url(#bl)">
<ellipse cx="47.8" cy="34.3" rx="2.88" ry="1.80" transform="rotate(-10 47.8 34.3)" fill="rgb(60,255,40)" opacity="1.00"/>
<ellipse cx="53.2" cy="50.1" rx="1.80" ry="2.40" transform="rotate(10 53.2 50.1)" fill="rgb(60,255,40)" opacity="1.00"/>
<ellipse cx="28.9" cy="53.2" rx="2.04" ry="2.04" transform="rotate(0 28.9 53.2)" fill="rgb(60,255,40)" opacity="1.00"/>
<ellipse cx="60.8" cy="53.2" rx="2.76" ry="1.20" transform="rotate(15 60.8 53.2)" fill="rgb(57,243,38)" opacity="1.00"/>
<ellipse cx="44.2" cy="59.6" rx="3.60" ry="1.44" transform="rotate(-35 44.2 59.6)" fill="rgb(54,231,36)" opacity="0.95"/>
<ellipse cx="53.2" cy="74.5" rx="1.80" ry="1.92" transform="rotate(0 53.2 74.5)" fill="rgb(20,110,20)" opacity="0.30"/>
<ellipse cx="34.8" cy="25.3" rx="3.12" ry="1.80" transform="rotate(-30 34.8 25.3)" fill="rgb(54,231,36)" opacity="0.95"/>
<ellipse cx="28.9" cy="28.9" rx="2.88" ry="1.92" transform="rotate(35 28.9 28.9)" fill="rgb(45,196,30)" opacity="0.80"/>
<ellipse cx="32.4" cy="32.4" rx="2.40" ry="1.56" transform="rotate(10 32.4 32.4)" fill="rgb(42,184,28)" opacity="0.75"/>
<ellipse cx="34.8" cy="70.2" rx="2.40" ry="1.56" transform="rotate(-20 34.8 70.2)" fill="rgb(20,110,20)" opacity="0.24"/>
<ellipse cx="44.2" cy="43" rx="1.20" ry="1.20" transform="rotate(0 44.2 43)" fill="rgb(48,208,32)" opacity="0.85"/>
<ellipse cx="56" cy="43" rx="1.20" ry="1.32" transform="rotate(0 56 43)" fill="rgb(48,208,32)" opacity="0.85"/>
<ellipse cx="63.1" cy="44.2" rx="1.20" ry="1.20" transform="rotate(0 63.1 44.2)" fill="rgb(45,196,30)" opacity="0.80"/>
<ellipse cx="50.1" cy="27.7" rx="1.20" ry="1.20" transform="rotate(0 50.1 27.7)" fill="rgb(42,184,28)" opacity="0.75"/>
<ellipse cx="41.8" cy="34.8" rx="1.20" ry="1.08" transform="rotate(0 41.8 34.8)" fill="rgb(42,184,28)" opacity="0.75"/>
<ellipse cx="22.9" cy="41.8" rx="1.80" ry="1.56" transform="rotate(0 22.9 41.8)" fill="rgb(20,110,20)" opacity="0.19"/>
<ellipse cx="21.8" cy="63.1" rx="1.56" ry="2.88" transform="rotate(-30 21.8 63.1)" fill="rgb(20,110,20)" opacity="0.19"/>
<ellipse cx="27.7" cy="67.9" rx="2.16" ry="1.56" transform="rotate(30 27.7 67.9)" fill="rgb(36,161,24)" opacity="0.65"/>
<ellipse cx="58.4" cy="69" rx="2.16" ry="1.44" transform="rotate(-20 58.4 69)" fill="rgb(20,110,20)" opacity="0.21"/>
<ellipse cx="65.5" cy="62" rx="2.40" ry="1.44" transform="rotate(-30 65.5 62)" fill="rgb(39,172,26)" opacity="0.70"/>
<ellipse cx="69" cy="54.9" rx="1.92" ry="1.56" transform="rotate(0 69 54.9)" fill="rgb(42,184,28)" opacity="0.75"/>
<ellipse cx="72.6" cy="34.8" rx="1.56" ry="2.40" transform="rotate(0 72.6 34.8)" fill="rgb(20,110,20)" opacity="0.19"/>
<ellipse cx="69" cy="28.9" rx="1.80" ry="2.88" transform="rotate(-25 69 28.9)" fill="rgb(20,110,20)" opacity="0.21"/>
<ellipse cx="65.5" cy="22.9" rx="2.40" ry="1.44" transform="rotate(25 65.5 22.9)" fill="rgb(20,110,20)" opacity="0.19"/>
<ellipse cx="39.5" cy="62" rx="1.92" ry="1.20" transform="rotate(-20 39.5 62)" fill="rgb(39,172,26)" opacity="0.70"/>
<ellipse cx="57.2" cy="56" rx="1.20" ry="1.20" transform="rotate(0 57.2 56)" fill="rgb(42,184,28)" opacity="0.75"/>
<ellipse cx="26" cy="25" rx="1.92" ry="1.56" transform="rotate(0 26 25)" fill="rgb(33,149,22)" opacity="0.60"/>
<ellipse cx="38" cy="29" rx="1.56" ry="1.20" transform="rotate(0 38 29)" fill="rgb(36,161,24)" opacity="0.65"/>
<ellipse cx="48.5" cy="66" rx="1.56" ry="1.08" transform="rotate(0 48.5 66)" fill="rgb(33,149,22)" opacity="0.60"/>
<ellipse cx="50.5" cy="40.5" rx="1.08" ry="1.08" transform="rotate(0 50.5 40.5)" fill="rgb(30,137,20)" opacity="0.55"/>
<ellipse cx="66" cy="49" rx="0.96" ry="0.96" transform="rotate(0 66 49)" fill="rgb(30,137,20)" opacity="0.55"/>
<ellipse cx="79.9" cy="40.0" rx="2.64" ry="0.72" transform="rotate(456 79.9 40.0)" fill="rgb(23,111,15)" opacity="0.44"/>
<ellipse cx="66.4" cy="56.9" rx="1.80" ry="0.96" transform="rotate(118 66.4 56.9)" fill="rgb(27,125,18)" opacity="0.50"/>
<ellipse cx="78.3" cy="39.9" rx="1.20" ry="1.20" transform="rotate(440 78.3 39.9)" fill="rgb(20,110,20)" opacity="0.22"/>
<ellipse cx="42.6" cy="77.6" rx="1.08" ry="1.08" transform="rotate(169 42.6 77.6)" fill="rgb(20,99,13)" opacity="0.39"/>
<ellipse cx="64.6" cy="18.2" rx="1.68" ry="0.96" transform="rotate(411 64.6 18.2)" fill="rgb(36,163,24)" opacity="0.66"/>
<ellipse cx="55.9" cy="15.4" rx="1.68" ry="0.96" transform="rotate(343 55.9 15.4)" fill="rgb(30,137,20)" opacity="0.55"/>
<ellipse cx="85.6" cy="55.6" rx="1.32" ry="0.96" transform="rotate(88 85.6 55.6)" fill="rgb(25,118,16)" opacity="0.47"/>
<ellipse cx="71.7" cy="20.0" rx="1.80" ry="0.84" transform="rotate(367 71.7 20.0)" fill="rgb(24,116,16)" opacity="0.46"/>
<ellipse cx="85.6" cy="45.3" rx="1.44" ry="0.96" transform="rotate(418 85.6 45.3)" fill="rgb(20,110,20)" opacity="0.19"/>
<ellipse cx="52.8" cy="30.4" rx="2.64" ry="1.32" transform="rotate(391 52.8 30.4)" fill="rgb(20,110,20)" opacity="0.20"/>
<ellipse cx="78.6" cy="42.1" rx="2.64" ry="1.44" transform="rotate(424 78.6 42.1)" fill="rgb(22,106,14)" opacity="0.42"/>
<ellipse cx="31.2" cy="79.7" rx="1.68" ry="0.96" transform="rotate(240 31.2 79.7)" fill="rgb(31,144,21)" opacity="0.58"/>
<ellipse cx="67.3" cy="67.9" rx="2.28" ry="0.84" transform="rotate(158 67.3 67.9)" fill="rgb(20,110,20)" opacity="0.21"/>
<ellipse cx="44.1" cy="56.3" rx="2.64" ry="1.20" transform="rotate(218 44.1 56.3)" fill="rgb(20,110,20)" opacity="0.21"/>
<ellipse cx="81.2" cy="38.2" rx="2.52" ry="0.96" transform="rotate(433 81.2 38.2)" fill="rgb(20,110,20)" opacity="0.21"/>
<ellipse cx="70.0" cy="34.9" rx="2.16" ry="0.84" transform="rotate(439 70.0 34.9)" fill="rgb(36,163,24)" opacity="0.66"/>
<ellipse cx="34.7" cy="71.7" rx="2.16" ry="0.72" transform="rotate(215 34.7 71.7)" fill="rgb(26,123,17)" opacity="0.49"/>
<ellipse cx="32.7" cy="77.6" rx="1.20" ry="1.44" transform="rotate(229 32.7 77.6)" fill="rgb(36,163,24)" opacity="0.66"/>
<ellipse cx="46.6" cy="73.3" rx="1.56" ry="0.84" transform="rotate(180 46.6 73.3)" fill="rgb(20,110,20)" opacity="0.21"/>
<ellipse cx="26.6" cy="60.8" rx="2.04" ry="1.32" transform="rotate(213 26.6 60.8)" fill="rgb(34,153,22)" opacity="0.62"/>
<ellipse cx="49.6" cy="58.3" rx="1.44" ry="0.96" transform="rotate(162 49.6 58.3)" fill="rgb(32,146,21)" opacity="0.59"/>
<ellipse cx="40.7" cy="55.4" rx="1.20" ry="1.20" transform="rotate(218 40.7 55.4)" fill="rgb(21,102,14)" opacity="0.40"/>
<ellipse cx="69.1" cy="20.4" rx="1.56" ry="0.84" transform="rotate(378 69.1 20.4)" fill="rgb(27,125,18)" opacity="0.50"/>
<ellipse cx="22.7" cy="58.9" rx="2.64" ry="1.08" transform="rotate(232 22.7 58.9)" fill="rgb(20,110,20)" opacity="0.21"/>
<ellipse cx="34.1" cy="67.9" rx="1.80" ry="1.08" transform="rotate(197 34.1 67.9)" fill="rgb(27,128,18)" opacity="0.51"/>
<ellipse cx="58.9" cy="27.1" rx="1.92" ry="1.32" transform="rotate(403 58.9 27.1)" fill="rgb(20,110,20)" opacity="0.20"/>
<ellipse cx="75.8" cy="29.7" rx="1.44" ry="0.72" transform="rotate(385 75.8 29.7)" fill="rgb(25,118,16)" opacity="0.47"/>
<ellipse cx="48.7" cy="20.0" rx="2.16" ry="0.72" transform="rotate(375 48.7 20.0)" fill="rgb(22,109,15)" opacity="0.43"/>
<ellipse cx="69.0" cy="73.5" rx="1.32" ry="1.32" transform="rotate(141 69.0 73.5)" fill="rgb(20,110,20)" opacity="0.20"/>
<ellipse cx="67.5" cy="71.4" rx="2.40" ry="0.72" transform="rotate(158 67.5 71.4)" fill="rgb(34,153,22)" opacity="0.62"/>
<ellipse cx="80.1" cy="35.3" rx="1.56" ry="0.96" transform="rotate(416 80.1 35.3)" fill="rgb(20,110,20)" opacity="0.22"/>
<ellipse cx="49.1" cy="76.6" rx="1.32" ry="0.96" transform="rotate(211 49.1 76.6)" fill="rgb(20,110,20)" opacity="0.20"/>
</g>
<g transform="translate(205.2 301.0)" filter="url(#bl)">
<ellipse cx="47.8" cy="34.3" rx="3.24" ry="2.03" transform="rotate(-10 47.8 34.3)" fill="rgb(250,235,250)" opacity="1.00"/>
<ellipse cx="53.2" cy="50.1" rx="2.03" ry="2.70" transform="rotate(10 53.2 50.1)" fill="rgb(250,235,250)" opacity="1.00"/>
<ellipse cx="28.9" cy="53.2" rx="2.29" ry="2.29" transform="rotate(0 28.9 53.2)" fill="rgb(250,235,250)" opacity="1.00"/>
<ellipse cx="60.8" cy="53.2" rx="3.10" ry="1.35" transform="rotate(15 60.8 53.2)" fill="rgb(250,235,250)" opacity="1.00"/>
<ellipse cx="44.2" cy="59.6" rx="4.05" ry="1.62" transform="rotate(-35 44.2 59.6)" fill="rgb(250,235,250)" opacity="1.00"/>
<ellipse cx="53.2" cy="74.5" rx="2.03" ry="2.16" transform="rotate(0 53.2 74.5)" fill="rgb(221,34,221)" opacity="0.95"/>
<ellipse cx="34.8" cy="25.3" rx="3.51" ry="2.03" transform="rotate(-30 34.8 25.3)" fill="rgb(250,235,250)" opacity="1.00"/>
<ellipse cx="28.9" cy="28.9" rx="3.24" ry="2.16" transform="rotate(35 28.9 28.9)" fill="rgb(190,120,190)" opacity="0.85"/>
<ellipse cx="32.4" cy="32.4" rx="2.70" ry="1.76" transform="rotate(10 32.4 32.4)" fill="rgb(180,112,180)" opacity="0.80"/>
<ellipse cx="34.8" cy="70.2" rx="2.70" ry="1.76" transform="rotate(-20 34.8 70.2)" fill="rgb(187,28,187)" opacity="0.80"/>
<ellipse cx="44.2" cy="43" rx="1.35" ry="1.35" transform="rotate(0 44.2 43)" fill="rgb(250,235,250)" opacity="1.00"/>
<ellipse cx="56" cy="43" rx="1.35" ry="1.49" transform="rotate(0 56 43)" fill="rgb(250,235,250)" opacity="1.00"/>
<ellipse cx="63.1" cy="44.2" rx="1.35" ry="1.35" transform="rotate(0 63.1 44.2)" fill="rgb(190,120,190)" opacity="0.85"/>
<ellipse cx="50.1" cy="27.7" rx="1.35" ry="1.35" transform="rotate(0 50.1 27.7)" fill="rgb(180,112,180)" opacity="0.80"/>
<ellipse cx="41.8" cy="34.8" rx="1.35" ry="1.22" transform="rotate(0 41.8 34.8)" fill="rgb(180,112,180)" opacity="0.80"/>
<ellipse cx="22.9" cy="41.8" rx="2.03" ry="1.76" transform="rotate(0 22.9 41.8)" fill="rgb(153,22,153)" opacity="0.65"/>
<ellipse cx="17" cy="45.4" rx="1.62" ry="2.97" transform="rotate(15 17 45.4)" fill="rgb(142,20,142)" opacity="0.60"/>
<ellipse cx="15.8" cy="50.1" rx="1.62" ry="2.16" transform="rotate(0 15.8 50.1)" fill="rgb(142,20,142)" opacity="0.60"/>
<ellipse cx="21.8" cy="63.1" rx="1.76" ry="3.24" transform="rotate(-30 21.8 63.1)" fill="rgb(153,22,153)" opacity="0.65"/>
<ellipse cx="27.7" cy="67.9" rx="2.43" ry="1.76" transform="rotate(30 27.7 67.9)" fill="rgb(160,96,160)" opacity="0.70"/>
<ellipse cx="43" cy="80.9" rx="2.43" ry="1.35" transform="rotate(0 43 80.9)" fill="rgb(131,18,131)" opacity="0.55"/>
<ellipse cx="58.4" cy="69" rx="2.43" ry="1.62" transform="rotate(-20 58.4 69)" fill="rgb(165,24,165)" opacity="0.70"/>
<ellipse cx="65.5" cy="62" rx="2.70" ry="1.62" transform="rotate(-30 65.5 62)" fill="rgb(170,104,170)" opacity="0.75"/>
<ellipse cx="69" cy="54.9" rx="2.16" ry="1.76" transform="rotate(0 69 54.9)" fill="rgb(180,112,180)" opacity="0.80"/>
<ellipse cx="75" cy="59.6" rx="1.62" ry="2.97" transform="rotate(25 75 59.6)" fill="rgb(142,20,142)" opacity="0.60"/>
<ellipse cx="80.9" cy="50.1" rx="1.62" ry="2.43" transform="rotate(0 80.9 50.1)" fill="rgb(142,20,142)" opacity="0.60"/>
<ellipse cx="82" cy="43" rx="1.62" ry="2.97" transform="rotate(10 82 43)" fill="rgb(142,20,142)" opacity="0.60"/>
<ellipse cx="72.6" cy="34.8" rx="1.76" ry="2.70" transform="rotate(0 72.6 34.8)" fill="rgb(153,22,153)" opacity="0.65"/>
<ellipse cx="69" cy="28.9" rx="2.03" ry="3.24" transform="rotate(-25 69 28.9)" fill="rgb(165,24,165)" opacity="0.70"/>
<ellipse cx="65.5" cy="22.9" rx="2.70" ry="1.62" transform="rotate(25 65.5 22.9)" fill="rgb(153,22,153)" opacity="0.65"/>
<ellipse cx="58.4" cy="20.6" rx="2.43" ry="1.35" transform="rotate(15 58.4 20.6)" fill="rgb(131,18,131)" opacity="0.55"/>
<ellipse cx="70.2" cy="25.3" rx="1.62" ry="1.62" transform="rotate(0 70.2 25.3)" fill="rgb(142,20,142)" opacity="0.60"/>
<ellipse cx="39.5" cy="62" rx="2.16" ry="1.35" transform="rotate(-20 39.5 62)" fill="rgb(170,104,170)" opacity="0.75"/>
<ellipse cx="57.2" cy="56" rx="1.35" ry="1.35" transform="rotate(0 57.2 56)" fill="rgb(180,112,180)" opacity="0.80"/>
<ellipse cx="62" cy="71.4" rx="2.03" ry="1.35" transform="rotate(-20 62 71.4)" fill="rgb(131,18,131)" opacity="0.55"/>
<ellipse cx="77.3" cy="46.6" rx="1.35" ry="1.62" transform="rotate(0 77.3 46.6)" fill="rgb(131,18,131)" opacity="0.55"/>
<ellipse cx="25.3" cy="59.6" rx="1.62" ry="1.62" transform="rotate(0 25.3 59.6)" fill="rgb(131,18,131)" opacity="0.55"/>
<ellipse cx="46.6" cy="53.7" rx="1.35" ry="1.22" transform="rotate(0 46.6 53.7)" fill="rgb(142,20,142)" opacity="0.60"/>
<ellipse cx="26" cy="25" rx="2.16" ry="1.76" transform="rotate(0 26 25)" fill="rgb(150,88,150)" opacity="0.65"/>
<ellipse cx="38" cy="29" rx="1.76" ry="1.35" transform="rotate(0 38 29)" fill="rgb(160,96,160)" opacity="0.70"/>
<ellipse cx="48.5" cy="66" rx="1.76" ry="1.22" transform="rotate(0 48.5 66)" fill="rgb(150,88,150)" opacity="0.65"/>
<ellipse cx="72" cy="67" rx="1.62" ry="2.16" transform="rotate(20 72 67)" fill="rgb(131,18,131)" opacity="0.55"/>
<ellipse cx="30" cy="74" rx="1.62" ry="1.62" transform="rotate(0 30 74)" fill="rgb(131,18,131)" opacity="0.55"/>
<ellipse cx="20.5" cy="35" rx="1.89" ry="1.62" transform="rotate(0 20.5 35)" fill="rgb(131,18,131)" opacity="0.55"/>
<ellipse cx="56" cy="83" rx="1.76" ry="1.22" transform="rotate(0 56 83)" fill="rgb(120,16,120)" opacity="0.50"/>
<ellipse cx="37" cy="81" rx="1.49" ry="1.22" transform="rotate(0 37 81)" fill="rgb(108,14,108)" opacity="0.45"/>
<ellipse cx="76.5" cy="39" rx="1.35" ry="1.89" transform="rotate(0 76.5 39)" fill="rgb(131,18,131)" opacity="0.55"/>
<ellipse cx="50.5" cy="40.5" rx="1.22" ry="1.22" transform="rotate(0 50.5 40.5)" fill="rgb(140,80,140)" opacity="0.60"/>
<ellipse cx="62.5" cy="36" rx="1.35" ry="1.35" transform="rotate(0 62.5 36)" fill="rgb(131,18,131)" opacity="0.55"/>
<ellipse cx="35" cy="47" rx="1.22" ry="1.22" transform="rotate(0 35 47)" fill="rgb(142,20,142)" opacity="0.60"/>
<ellipse cx="66" cy="49" rx="1.08" ry="1.08" transform="rotate(0 66 49)" fill="rgb(140,80,140)" opacity="0.60"/>
<ellipse cx="40" cy="52" rx="1.08" ry="1.08" transform="rotate(0 40 52)" fill="rgb(142,20,142)" opacity="0.60"/>
<ellipse cx="54" cy="62" rx="1.22" ry="1.08" transform="rotate(0 54 62)" fill="rgb(142,20,142)" opacity="0.60"/>
<ellipse cx="24" cy="48" rx="1.35" ry="1.35" transform="rotate(0 24 48)" fill="rgb(120,16,120)" opacity="0.50"/>
<ellipse cx="37.2" cy="72.3" rx="1.35" ry="1.22" transform="rotate(197 37.2 72.3)" fill="rgb(102,12,102)" opacity="0.42"/>
<ellipse cx="58.2" cy="52.1" rx="2.03" ry="1.49" transform="rotate(77 58.2 52.1)" fill="rgb(113,14,113)" opacity="0.47"/>
<ellipse cx="79.9" cy="40.0" rx="2.97" ry="0.81" transform="rotate(456 79.9 40.0)" fill="rgb(118,62,118)" opacity="0.49"/>
<ellipse cx="70.1" cy="68.3" rx="1.49" ry="1.22" transform="rotate(142 70.1 68.3)" fill="rgb(124,16,124)" opacity="0.52"/>
<ellipse cx="66.4" cy="56.9" rx="2.03" ry="1.08" transform="rotate(118 66.4 56.9)" fill="rgb(130,72,130)" opacity="0.55"/>
<ellipse cx="53.7" cy="34.3" rx="2.16" ry="1.49" transform="rotate(392 53.7 34.3)" fill="rgb(117,15,117)" opacity="0.49"/>
<ellipse cx="71.3" cy="69.4" rx="1.49" ry="1.22" transform="rotate(100 71.3 69.4)" fill="rgb(144,20,144)" opacity="0.61"/>
<ellipse cx="15.7" cy="34.4" rx="2.43" ry="1.35" transform="rotate(301 15.7 34.4)" fill="rgb(131,18,131)" opacity="0.55"/>
<ellipse cx="78.3" cy="39.9" rx="1.35" ry="1.35" transform="rotate(440 78.3 39.9)" fill="rgb(169,24,169)" opacity="0.72"/>
<ellipse cx="42.6" cy="77.6" rx="1.22" ry="1.22" transform="rotate(169 42.6 77.6)" fill="rgb(108,54,108)" opacity="0.44"/>
<ellipse cx="50.6" cy="36.5" rx="2.70" ry="0.81" transform="rotate(363 50.6 36.5)" fill="rgb(138,19,138)" opacity="0.58"/>
<ellipse cx="64.6" cy="18.2" rx="1.89" ry="1.08" transform="rotate(411 64.6 18.2)" fill="rgb(162,97,162)" opacity="0.71"/>
<ellipse cx="56.0" cy="63.4" rx="2.29" ry="1.08" transform="rotate(118 56.0 63.4)" fill="rgb(126,17,126)" opacity="0.53"/>
<ellipse cx="14.0" cy="35.3" rx="2.16" ry="1.35" transform="rotate(306 14.0 35.3)" fill="rgb(102,12,102)" opacity="0.42"/>
<ellipse cx="55.9" cy="15.4" rx="1.89" ry="1.08" transform="rotate(343 55.9 15.4)" fill="rgb(140,80,140)" opacity="0.60"/>
<ellipse cx="61.3" cy="55.2" rx="1.35" ry="0.81" transform="rotate(89 61.3 55.2)" fill="rgb(104,13,104)" opacity="0.43"/>
<ellipse cx="85.6" cy="55.6" rx="1.49" ry="1.08" transform="rotate(88 85.6 55.6)" fill="rgb(124,67,124)" opacity="0.52"/>
<ellipse cx="71.7" cy="20.0" rx="2.03" ry="0.94" transform="rotate(367 71.7 20.0)" fill="rgb(122,65,122)" opacity="0.51"/>
<ellipse cx="60.0" cy="30.6" rx="2.16" ry="0.94" transform="rotate(391 60.0 30.6)" fill="rgb(99,12,99)" opacity="0.41"/>
<ellipse cx="85.6" cy="45.3" rx="1.62" ry="1.08" transform="rotate(418 85.6 45.3)" fill="rgb(153,22,153)" opacity="0.65"/>
<ellipse cx="52.8" cy="30.4" rx="2.97" ry="1.49" transform="rotate(391 52.8 30.4)" fill="rgb(156,22,156)" opacity="0.66"/>
<ellipse cx="53.6" cy="79.9" rx="1.22" ry="0.81" transform="rotate(156 53.6 79.9)" fill="rgb(115,15,115)" opacity="0.48"/>
<ellipse cx="78.6" cy="42.1" rx="2.97" ry="1.62" transform="rotate(424 78.6 42.1)" fill="rgb(114,59,114)" opacity="0.47"/>
<ellipse cx="57.9" cy="74.3" rx="2.84" ry="1.49" transform="rotate(159 57.9 74.3)" fill="rgb(144,20,144)" opacity="0.61"/>
<ellipse cx="78.2" cy="66.4" rx="2.56" ry="1.49" transform="rotate(118 78.2 66.4)" fill="rgb(111,14,111)" opacity="0.46"/>
<ellipse cx="31.2" cy="79.7" rx="1.89" ry="1.08" transform="rotate(240 31.2 79.7)" fill="rgb(146,84,146)" opacity="0.63"/>
<ellipse cx="67.3" cy="67.9" rx="2.56" ry="0.94" transform="rotate(158 67.3 67.9)" fill="rgb(167,24,167)" opacity="0.71"/>
<ellipse cx="44.1" cy="56.3" rx="2.97" ry="1.35" transform="rotate(218 44.1 56.3)" fill="rgb(165,24,165)" opacity="0.70"/>
<ellipse cx="57.3" cy="41.8" rx="1.76" ry="0.94" transform="rotate(409 57.3 41.8)" fill="rgb(115,15,115)" opacity="0.48"/>
<ellipse cx="74.6" cy="76.2" rx="2.03" ry="1.35" transform="rotate(165 74.6 76.2)" fill="rgb(126,17,126)" opacity="0.53"/>
<ellipse cx="17.0" cy="49.7" rx="1.22" ry="1.22" transform="rotate(248 17.0 49.7)" fill="rgb(97,12,97)" opacity="0.40"/>
<ellipse cx="63.6" cy="76.1" rx="2.16" ry="1.08" transform="rotate(153 63.6 76.1)" fill="rgb(138,19,138)" opacity="0.58"/>
<ellipse cx="58.8" cy="57.3" rx="2.56" ry="1.22" transform="rotate(132 58.8 57.3)" fill="rgb(151,21,151)" opacity="0.64"/>
<ellipse cx="17.9" cy="61.0" rx="2.16" ry="1.35" transform="rotate(246 17.9 61.0)" fill="rgb(135,18,135)" opacity="0.57"/>
<ellipse cx="81.2" cy="38.2" rx="2.84" ry="1.08" transform="rotate(433 81.2 38.2)" fill="rgb(165,24,165)" opacity="0.70"/>
<ellipse cx="65.8" cy="68.6" rx="1.35" ry="0.94" transform="rotate(109 65.8 68.6)" fill="rgb(144,20,144)" opacity="0.61"/>
<ellipse cx="70.0" cy="34.9" rx="2.43" ry="0.94" transform="rotate(439 70.0 34.9)" fill="rgb(162,97,162)" opacity="0.71"/>
<ellipse cx="77.6" cy="41.6" rx="2.97" ry="1.49" transform="rotate(409 77.6 41.6)" fill="rgb(129,17,129)" opacity="0.54"/>
<ellipse cx="34.7" cy="71.7" rx="2.43" ry="0.81" transform="rotate(215 34.7 71.7)" fill="rgb(128,70,128)" opacity="0.54"/>
<ellipse cx="32.7" cy="77.6" rx="1.35" ry="1.62" transform="rotate(229 32.7 77.6)" fill="rgb(162,97,162)" opacity="0.71"/>
<ellipse cx="46.6" cy="73.3" rx="1.76" ry="0.94" transform="rotate(180 46.6 73.3)" fill="rgb(162,23,162)" opacity="0.69"/>
<ellipse cx="47.6" cy="74.9" rx="2.16" ry="1.35" transform="rotate(154 47.6 74.9)" fill="rgb(102,12,102)" opacity="0.42"/>
<ellipse cx="26.6" cy="60.8" rx="2.29" ry="1.49" transform="rotate(213 26.6 60.8)" fill="rgb(154,91,154)" opacity="0.67"/>
<ellipse cx="69.0" cy="27.8" rx="2.16" ry="1.62" transform="rotate(384 69.0 27.8)" fill="rgb(106,13,106)" opacity="0.44"/>
<ellipse cx="49.6" cy="58.3" rx="1.62" ry="1.08" transform="rotate(162 49.6 58.3)" fill="rgb(148,86,148)" opacity="0.64"/>
<ellipse cx="22.3" cy="50.0" rx="1.22" ry="1.08" transform="rotate(236 22.3 50.0)" fill="rgb(149,21,149)" opacity="0.63"/>
<ellipse cx="60.6" cy="77.5" rx="1.35" ry="1.49" transform="rotate(153 60.6 77.5)" fill="rgb(133,18,133)" opacity="0.56"/>
<ellipse cx="24.3" cy="68.7" rx="2.97" ry="1.08" transform="rotate(254 24.3 68.7)" fill="rgb(149,21,149)" opacity="0.63"/>
<ellipse cx="40.7" cy="55.4" rx="1.35" ry="1.35" transform="rotate(218 40.7 55.4)" fill="rgb(110,56,110)" opacity="0.45"/>
<ellipse cx="69.1" cy="20.4" rx="1.76" ry="0.94" transform="rotate(378 69.1 20.4)" fill="rgb(130,72,130)" opacity="0.55"/>
<ellipse cx="22.7" cy="58.9" rx="2.97" ry="1.22" transform="rotate(232 22.7 58.9)" fill="rgb(167,24,167)" opacity="0.71"/>
<ellipse cx="34.1" cy="67.9" rx="2.03" ry="1.22" transform="rotate(197 34.1 67.9)" fill="rgb(132,73,132)" opacity="0.56"/>
<ellipse cx="46.7" cy="74.0" rx="1.35" ry="0.81" transform="rotate(171 46.7 74.0)" fill="rgb(113,14,113)" opacity="0.47"/>
<ellipse cx="14.3" cy="43.9" rx="2.43" ry="1.49" transform="rotate(272 14.3 43.9)" fill="rgb(120,16,120)" opacity="0.50"/>
<ellipse cx="69.6" cy="76.7" rx="1.35" ry="1.49" transform="rotate(171 69.6 76.7)" fill="rgb(142,20,142)" opacity="0.60"/>
<ellipse cx="58.9" cy="27.1" rx="2.16" ry="1.49" transform="rotate(403 58.9 27.1)" fill="rgb(156,22,156)" opacity="0.66"/>
<ellipse cx="75.8" cy="29.7" rx="1.62" ry="0.81" transform="rotate(385 75.8 29.7)" fill="rgb(124,67,124)" opacity="0.52"/>
<ellipse cx="65.6" cy="23.6" rx="2.29" ry="1.35" transform="rotate(390 65.6 23.6)" fill="rgb(97,12,97)" opacity="0.40"/>
<ellipse cx="48.7" cy="20.0" rx="2.43" ry="0.81" transform="rotate(375 48.7 20.0)" fill="rgb(116,60,116)" opacity="0.48"/>
<ellipse cx="47.1" cy="68.8" rx="2.97" ry="1.22" transform="rotate(177 47.1 68.8)" fill="rgb(131,18,131)" opacity="0.55"/>
<ellipse cx="52.5" cy="18.6" rx="1.35" ry="0.94" transform="rotate(348 52.5 18.6)" fill="rgb(151,21,151)" opacity="0.64"/>
<ellipse cx="37.8" cy="45.2" rx="2.43" ry="1.35" transform="rotate(306 37.8 45.2)" fill="rgb(117,15,117)" opacity="0.49"/>
<ellipse cx="27.2" cy="54.7" rx="1.62" ry="1.62" transform="rotate(287 27.2 54.7)" fill="rgb(99,12,99)" opacity="0.41"/>
<ellipse cx="65.4" cy="16.9" rx="1.62" ry="0.94" transform="rotate(416 65.4 16.9)" fill="rgb(113,14,113)" opacity="0.47"/>
<ellipse cx="69.0" cy="73.5" rx="1.49" ry="1.49" transform="rotate(141 69.0 73.5)" fill="rgb(160,23,160)" opacity="0.68"/>
<ellipse cx="53.4" cy="85.3" rx="1.22" ry="0.81" transform="rotate(172 53.4 85.3)" fill="rgb(129,17,129)" opacity="0.54"/>
<ellipse cx="67.5" cy="71.4" rx="2.70" ry="0.81" transform="rotate(158 67.5 71.4)" fill="rgb(154,91,154)" opacity="0.67"/>
<ellipse cx="80.1" cy="35.3" rx="1.76" ry="1.08" transform="rotate(416 80.1 35.3)" fill="rgb(169,24,169)" opacity="0.72"/>
<ellipse cx="29.5" cy="72.2" rx="1.35" ry="0.94" transform="rotate(243 29.5 72.2)" fill="rgb(117,15,117)" opacity="0.49"/>
<ellipse cx="49.1" cy="76.6" rx="1.49" ry="1.08" transform="rotate(211 49.1 76.6)" fill="rgb(160,23,160)" opacity="0.68"/>
</g>
<g transform="translate(205.2 301.0)" filter="url(#bl)"><ellipse cx="43" cy="57" rx="2" ry="1.2" fill="#3c3"/><ellipse cx="50" cy="30" rx="1" ry="1.2" fill="#3c3"/><ellipse cx="63" cy="45" rx="0.9" ry="0.9" fill="#3c3"/></g>
<text x="56.25" y="310.2" text-anchor="middle" font-size="8.6" fill="#fff">Golgi-mCherry</text>
<text x="154.45" y="310.2" text-anchor="middle" font-size="8.6" fill="#fff">PtRWA-C-GFP</text>
<text x="250.65" y="310.2" text-anchor="middle" font-size="8.6" fill="#fff">Merge</text>
<rect x="275" y="388.3" width="20" height="1.1" fill="#fff"/>
<text x="284.5" y="387" text-anchor="middle" font-size="6.5" fill="#fff">5 µm</text>
</g>
<g id="charts">
<line x1="356.2" x2="453.1" y1="158.38" y2="158.38" stroke="#d4d4d4" stroke-width="1"/>
<line x1="356.2" x2="453.1" y1="131.87" y2="131.87" stroke="#d4d4d4" stroke-width="1"/>
<line x1="356.2" x2="453.1" y1="105.35" y2="105.35" stroke="#d4d4d4" stroke-width="1"/>
<line x1="356.2" x2="453.1" y1="78.83" y2="78.83" stroke="#d4d4d4" stroke-width="1"/>
<line x1="356.2" x2="453.1" y1="52.32" y2="52.32" stroke="#d4d4d4" stroke-width="1"/>
<rect x="362.80" y="52.05" width="18.70" height="132.85" fill="#ffffff" stroke="#000" stroke-width="1.6"/>
<path d="M372.15 45.60V57.90M368.75 45.60H375.55M368.75 57.90H375.55" stroke="#404040" stroke-width="1" fill="none"/>
<rect x="395.60" y="43.04" width="18.70" height="141.86" fill="#bfbfbf" stroke="#000" stroke-width="1.6"/>
<path d="M404.95 39.30V46.00M401.55 39.30H408.35M401.55 46.00H408.35" stroke="#404040" stroke-width="1" fill="none"/>
<rect x="428.30" y="37.73" width="18.70" height="147.17" fill="#7f7f7f" stroke="#000" stroke-width="1.6"/>
<path d="M437.65 36.00V38.30M434.25 36.00H441.05M434.25 38.30H441.05" stroke="#404040" stroke-width="1" fill="none"/>
<rect x="356.2" y="25.8" width="96.90000000000003" height="159.1" fill="none" stroke="#000" stroke-width="1.6"/>
<line x1="352.7" x2="356.2" y1="184.90" y2="184.90" stroke="#000" stroke-width="1.3"/>
<text x="345" y="188.80" text-anchor="end" class="tk">0</text>
<line x1="352.7" x2="356.2" y1="158.38" y2="158.38" stroke="#000" stroke-width="1.3"/>
<text x="345" y="162.28" text-anchor="end" class="tk">5</text>
<line x1="352.7" x2="356.2" y1="131.87" y2="131.87" stroke="#000" stroke-width="1.3"/>
<text x="345" y="135.77" text-anchor="end" class="tk">10</text>
<line x1="352.7" x2="356.2" y1="105.35" y2="105.35" stroke="#000" stroke-width="1.3"/>
<text x="345" y="109.25" text-anchor="end" class="tk">15</text>
<line x1="352.7" x2="356.2" y1="78.83" y2="78.83" stroke="#000" stroke-width="1.3"/>
<text x="345" y="82.73" text-anchor="end" class="tk">20</text>
<line x1="352.7" x2="356.2" y1="52.32" y2="52.32" stroke="#000" stroke-width="1.3"/>
<text x="345" y="56.22" text-anchor="end" class="tk">25</text>
<line x1="352.7" x2="356.2" y1="25.80" y2="25.80" stroke="#000" stroke-width="1.3"/>
<text x="345" y="29.70" text-anchor="end" class="tk">30</text>
<text x="405" y="39.2" text-anchor="middle" class="st">*</text>
<text x="437.5" y="37.2" text-anchor="middle" class="st">**</text>
<text x="372.2" y="202.4" text-anchor="middle" class="xl">Ctrl</text>
<text x="405" y="202.4" text-anchor="middle" class="xl">#1</text>
<text x="437.8" y="202.4" text-anchor="middle" class="xl">#2</text>
<line x1="514.15" x2="611.6" y1="145.12" y2="145.12" stroke="#d4d4d4" stroke-width="1"/>
<line x1="514.15" x2="611.6" y1="105.35" y2="105.35" stroke="#d4d4d4" stroke-width="1"/>
<line x1="514.15" x2="611.6" y1="65.58" y2="65.58" stroke="#d4d4d4" stroke-width="1"/>
<rect x="520.80" y="61.60" width="18.70" height="123.30" fill="#ffffff" stroke="#000" stroke-width="1.6"/>
<path d="M530.15 59.50V63.50M526.75 59.50H533.55M526.75 63.50H533.55" stroke="#404040" stroke-width="1" fill="none"/>
<rect x="553.50" y="45.89" width="18.70" height="139.01" fill="#bfbfbf" stroke="#000" stroke-width="1.6"/>
<path d="M562.85 42.50V49.00M559.45 42.50H566.25M559.45 49.00H566.25" stroke="#404040" stroke-width="1" fill="none"/>
<rect x="586.30" y="50.86" width="18.70" height="134.04" fill="#7f7f7f" stroke="#000" stroke-width="1.6"/>
<path d="M595.65 47.50V53.80M592.25 47.50H599.05M592.25 53.80H599.05" stroke="#404040" stroke-width="1" fill="none"/>
<rect x="514.15" y="25.8" width="97.45000000000005" height="159.1" fill="none" stroke="#000" stroke-width="1.6"/>
<line x1="510.65" x2="514.15" y1="184.90" y2="184.90" stroke="#000" stroke-width="1.3"/>
<text x="504.2" y="188.80" text-anchor="end" class="tk">0</text>
<line x1="510.65" x2="514.15" y1="145.12" y2="145.12" stroke="#000" stroke-width="1.3"/>
<text x="504.2" y="149.03" text-anchor="end" class="tk">0.4</text>
<line x1="510.65" x2="514.15" y1="105.35" y2="105.35" stroke="#000" stroke-width="1.3"/>
<text x="504.2" y="109.25" text-anchor="end" class="tk">0.8</text>
<line x1="510.65" x2="514.15" y1="65.58" y2="65.58" stroke="#000" stroke-width="1.3"/>
<text x="504.2" y="69.48" text-anchor="end" class="tk">1.2</text>
<line x1="510.65" x2="514.15" y1="25.80" y2="25.80" stroke="#000" stroke-width="1.3"/>
<text x="504.2" y="29.70" text-anchor="end" class="tk">1.6</text>
<text x="563" y="43.2" text-anchor="middle" class="st">**</text>
<text x="596" y="46.2" text-anchor="middle" class="st">**</text>
<text x="530.5" y="202.4" text-anchor="middle" class="xl">Ctrl</text>
<text x="563" y="202.4" text-anchor="middle" class="xl">#1</text>
<text x="595.8" y="202.4" text-anchor="middle" class="xl">#2</text>
<line x1="356.15" x2="453.1" y1="350.84" y2="350.84" stroke="#d4d4d4" stroke-width="1"/>
<line x1="356.15" x2="453.1" y1="318.98" y2="318.98" stroke="#d4d4d4" stroke-width="1"/>
<line x1="356.15" x2="453.1" y1="287.12" y2="287.12" stroke="#d4d4d4" stroke-width="1"/>
<line x1="356.15" x2="453.1" y1="255.26" y2="255.26" stroke="#d4d4d4" stroke-width="1"/>
<rect x="362.80" y="245.54" width="18.70" height="137.16" fill="#ffffff" stroke="#000" stroke-width="1.6"/>
<path d="M372.15 242.50V249.00M368.75 242.50H375.55M368.75 249.00H375.55" stroke="#404040" stroke-width="1" fill="none"/>
<rect x="395.60" y="260.99" width="18.70" height="121.71" fill="#bfbfbf" stroke="#000" stroke-width="1.6"/>
<path d="M404.95 256.80V265.30M401.55 256.80H408.35M401.55 265.30H408.35" stroke="#404040" stroke-width="1" fill="none"/>
<rect x="428.30" y="264.02" width="18.70" height="118.68" fill="#7f7f7f" stroke="#000" stroke-width="1.6"/>
<path d="M437.65 260.80V267.00M434.25 260.80H441.05M434.25 267.00H441.05" stroke="#404040" stroke-width="1" fill="none"/>
<rect x="356.15" y="223.4" width="96.95000000000005" height="159.29999999999998" fill="none" stroke="#000" stroke-width="1.6"/>
<line x1="352.65" x2="356.15" y1="382.70" y2="382.70" stroke="#000" stroke-width="1.3"/>
<text x="345" y="386.60" text-anchor="end" class="tk">0</text>
<line x1="352.65" x2="356.15" y1="350.84" y2="350.84" stroke="#000" stroke-width="1.3"/>
<text x="345" y="354.74" text-anchor="end" class="tk">0.1</text>
<line x1="352.65" x2="356.15" y1="318.98" y2="318.98" stroke="#000" stroke-width="1.3"/>
<text x="345" y="322.88" text-anchor="end" class="tk">0.2</text>
<line x1="352.65" x2="356.15" y1="287.12" y2="287.12" stroke="#000" stroke-width="1.3"/>
<text x="345" y="291.02" text-anchor="end" class="tk">0.3</text>
<line x1="352.65" x2="356.15" y1="255.26" y2="255.26" stroke="#000" stroke-width="1.3"/>
<text x="345" y="259.16" text-anchor="end" class="tk">0.4</text>
<line x1="352.65" x2="356.15" y1="223.40" y2="223.40" stroke="#000" stroke-width="1.3"/>
<text x="345" y="227.30" text-anchor="end" class="tk">0.5</text>
<text x="405" y="257.5" text-anchor="middle" class="st">**</text>
<text x="437.8" y="260.3" text-anchor="middle" class="st">**</text>
<text x="372.2" y="400.3" text-anchor="middle" class="xl">Ctrl</text>
<text x="404.5" y="400.3" text-anchor="middle" class="xl">#1</text>
<text x="437.3" y="400.3" text-anchor="middle" class="xl">#2</text>
<line x1="514.15" x2="611.6" y1="356.15" y2="356.15" stroke="#d4d4d4" stroke-width="1"/>
<line x1="514.15" x2="611.6" y1="329.60" y2="329.60" stroke="#d4d4d4" stroke-width="1"/>
<line x1="514.15" x2="611.6" y1="303.05" y2="303.05" stroke="#d4d4d4" stroke-width="1"/>
<line x1="514.15" x2="611.6" y1="276.50" y2="276.50" stroke="#d4d4d4" stroke-width="1"/>
<line x1="514.15" x2="611.6" y1="249.95" y2="249.95" stroke="#d4d4d4" stroke-width="1"/>
<rect x="520.80" y="312.87" width="18.70" height="69.83" fill="#ffffff" stroke="#000" stroke-width="1.6"/>
<path d="M530.15 299.30V326.30M526.75 299.30H533.55M526.75 326.30H533.55" stroke="#404040" stroke-width="1" fill="none"/>
<rect x="553.50" y="262.43" width="18.70" height="120.27" fill="#bfbfbf" stroke="#000" stroke-width="1.6"/>
<path d="M562.85 243.80V280.50M559.45 243.80H566.25M559.45 280.50H566.25" stroke="#404040" stroke-width="1" fill="none"/>
<rect x="586.30" y="256.32" width="18.70" height="126.38" fill="#7f7f7f" stroke="#000" stroke-width="1.6"/>
<path d="M595.65 238.50V273.30M592.25 238.50H599.05M592.25 273.30H599.05" stroke="#404040" stroke-width="1" fill="none"/>
<rect x="514.15" y="223.4" width="97.45000000000005" height="159.29999999999998" fill="none" stroke="#000" stroke-width="1.6"/>
<line x1="510.65" x2="514.15" y1="382.70" y2="382.70" stroke="#000" stroke-width="1.3"/>
<text x="504.2" y="386.60" text-anchor="end" class="tk">0</text>
<line x1="510.65" x2="514.15" y1="356.15" y2="356.15" stroke="#000" stroke-width="1.3"/>
<text x="504.2" y="360.05" text-anchor="end" class="tk">10</text>
<line x1="510.65" x2="514.15" y1="329.60" y2="329.60" stroke="#000" stroke-width="1.3"/>
<text x="504.2" y="333.50" text-anchor="end" class="tk">20</text>
<line x1="510.65" x2="514.15" y1="303.05" y2="303.05" stroke="#000" stroke-width="1.3"/>
<text x="504.2" y="306.95" text-anchor="end" class="tk">30</text>
<line x1="510.65" x2="514.15" y1="276.50" y2="276.50" stroke="#000" stroke-width="1.3"/>
<text x="504.2" y="280.40" text-anchor="end" class="tk">40</text>
<line x1="510.65" x2="514.15" y1="249.95" y2="249.95" stroke="#000" stroke-width="1.3"/>
<text x="504.2" y="253.85" text-anchor="end" class="tk">50</text>
<line x1="510.65" x2="514.15" y1="223.40" y2="223.40" stroke="#000" stroke-width="1.3"/>
<text x="504.2" y="227.30" text-anchor="end" class="tk">60</text>
<text x="563" y="243.7" text-anchor="middle" class="st">**</text>
<text x="596" y="239.3" text-anchor="middle" class="st">**</text>
<text x="530.5" y="400.3" text-anchor="middle" class="xl">Ctrl</text>
<text x="563" y="400.3" text-anchor="middle" class="xl">#1</text>
<text x="595.8" y="400.3" text-anchor="middle" class="xl">#2</text>
<text transform="translate(325.2 105.4) rotate(-90)" text-anchor="middle" class="ax" >Lignin content (%)</text>
<text transform="translate(484 105.5) rotate(-90)" text-anchor="middle" class="ax" >S/G ratio</text>
<text transform="translate(312 303) rotate(-90)" text-anchor="middle" class="ax" >Combined sugar release</text>
<text transform="translate(324.5 303) rotate(-90)" text-anchor="middle" class="ax" >(mg/mg dry weight)</text>
<text transform="translate(473.5 303) rotate(-90)" text-anchor="middle" class="ax" >Acetyl content</text>
<text transform="translate(486 303.5) rotate(-90)" text-anchor="middle" class="ax" textLength="138" lengthAdjust="spacingAndGlyphs">(mg/g DMSO-extracted xylan)</text>
</g>
</svg>
</body></html>
